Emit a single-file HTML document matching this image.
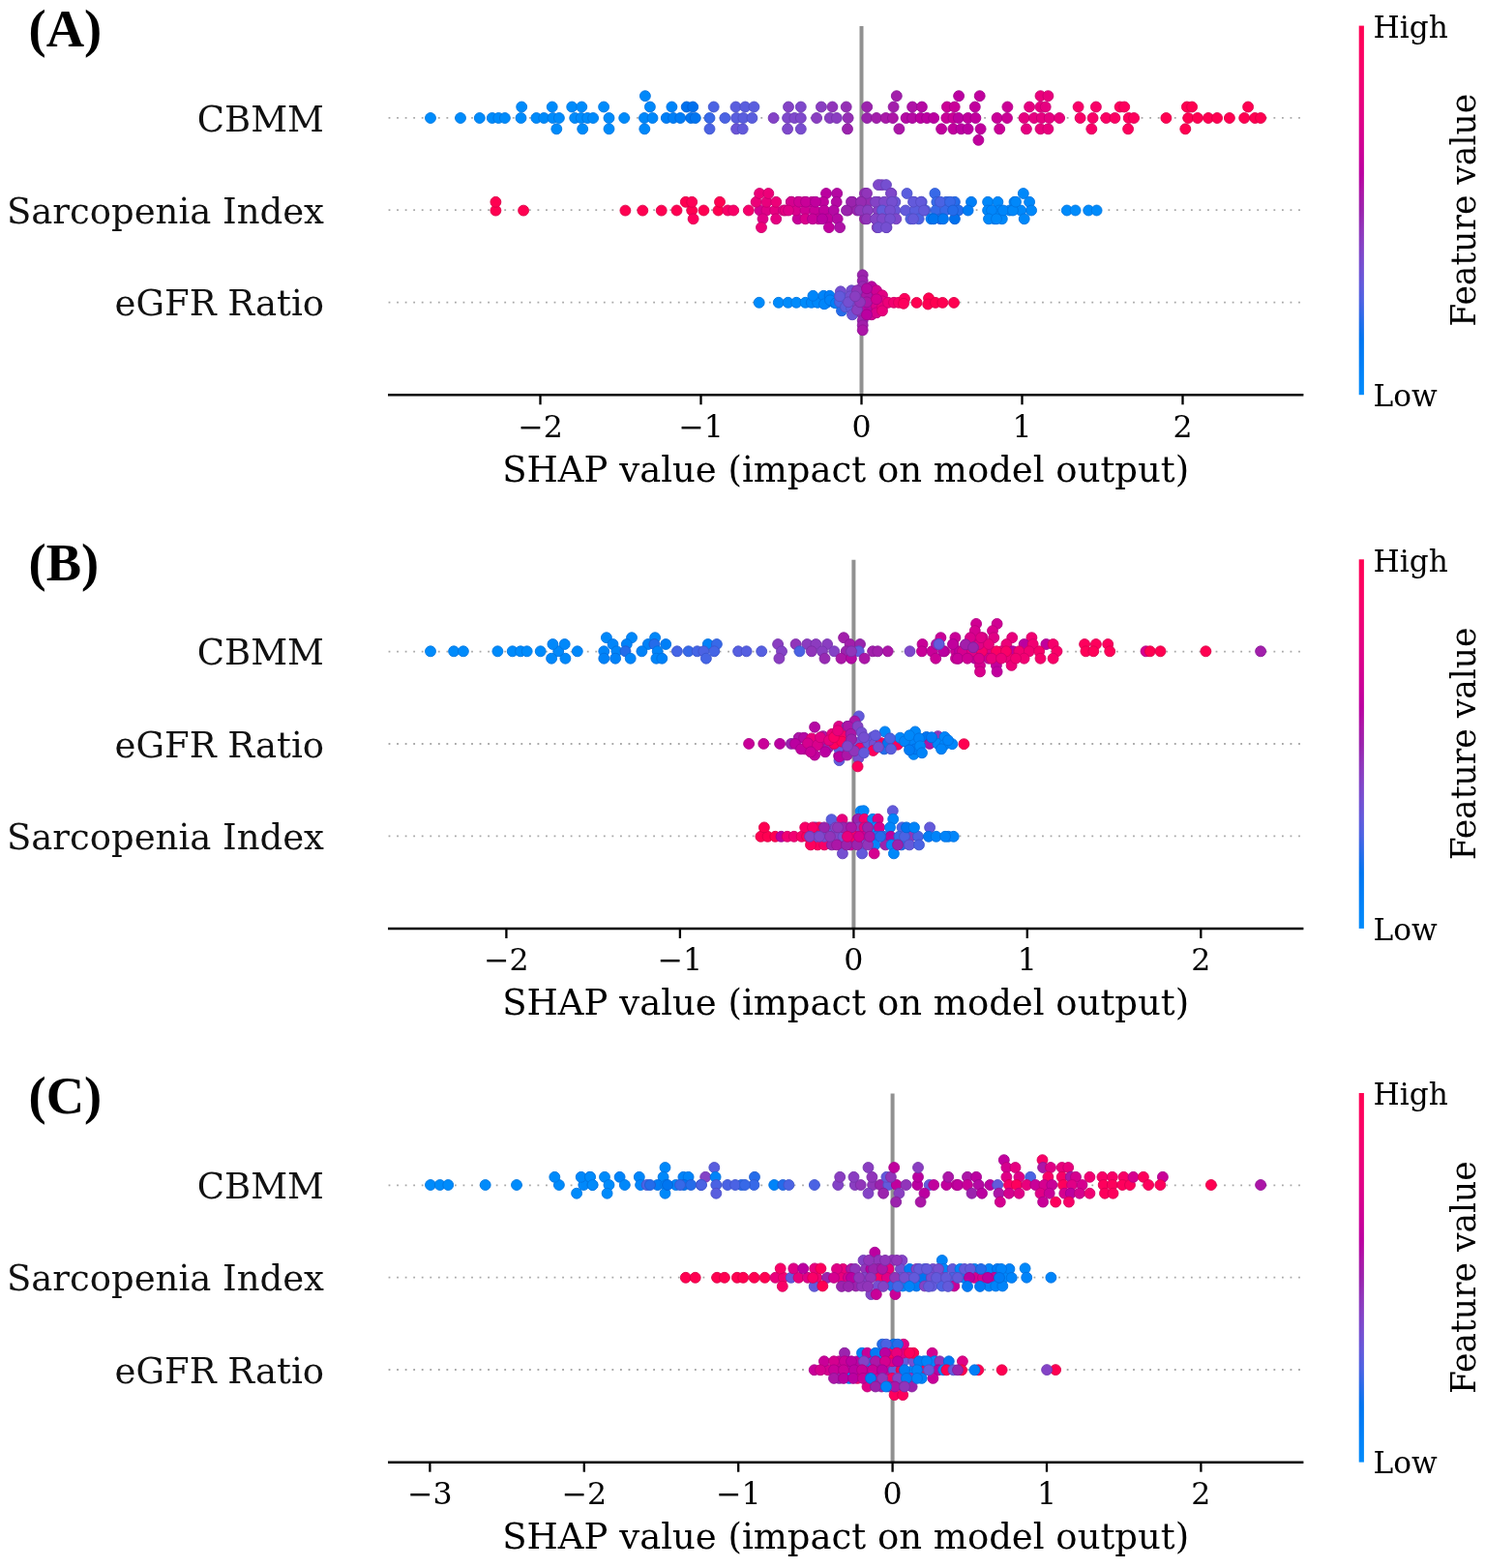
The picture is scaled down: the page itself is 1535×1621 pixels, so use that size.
<!DOCTYPE html><html><head><meta charset="utf-8"><title>SHAP summary plots</title><style>html,body{margin:0;padding:0;background:#fff;overflow:hidden}svg{display:block}</style></head><body>
<svg width="1535" height="1621" viewBox="0 0 1535 1621">
<defs><linearGradient id="cb" x1="0" y1="0" x2="0" y2="1"><stop offset="0.00" stop-color="#ff0051"/><stop offset="0.05" stop-color="#fe005c"/><stop offset="0.10" stop-color="#f90067"/><stop offset="0.15" stop-color="#f20072"/><stop offset="0.20" stop-color="#e9007c"/><stop offset="0.25" stop-color="#e00086"/><stop offset="0.30" stop-color="#d5008f"/><stop offset="0.35" stop-color="#c90098"/><stop offset="0.40" stop-color="#bb00a0"/><stop offset="0.45" stop-color="#ac16a7"/><stop offset="0.50" stop-color="#9b23ad"/><stop offset="0.55" stop-color="#9135ba"/><stop offset="0.60" stop-color="#8443c6"/><stop offset="0.65" stop-color="#754fd1"/><stop offset="0.70" stop-color="#635adb"/><stop offset="0.75" stop-color="#4b63e3"/><stop offset="0.80" stop-color="#246cea"/><stop offset="0.85" stop-color="#0075f0"/><stop offset="0.90" stop-color="#007cf5"/><stop offset="0.95" stop-color="#0084f9"/><stop offset="1.00" stop-color="#008bfb"/></linearGradient></defs>
<rect width="1535" height="1621" fill="#fff"/>
<g font-family="DejaVu Serif, Liberation Serif, serif"><line x1="401.6" y1="121.9" x2="1347.4" y2="121.9" stroke="#a8a8a8" stroke-width="1.8" stroke-dasharray="1.8 6.75"/><line x1="401.6" y1="217.2" x2="1347.4" y2="217.2" stroke="#a8a8a8" stroke-width="1.8" stroke-dasharray="1.8 6.75"/><line x1="401.6" y1="312.6" x2="1347.4" y2="312.6" stroke="#a8a8a8" stroke-width="1.8" stroke-dasharray="1.8 6.75"/><line x1="890.5" y1="27" x2="890.5" y2="408.3" stroke="#919191" stroke-width="4"/><circle cx="445" cy="122" r="5.45" fill="#008bfb" stroke="#0077e1" stroke-width="0.9"/><circle cx="476" cy="122" r="5.45" fill="#008bfb" stroke="#0077e1" stroke-width="0.9"/><circle cx="495.8" cy="122" r="5.45" fill="#008bfb" stroke="#0077e1" stroke-width="0.9"/><circle cx="508.8" cy="122" r="5.45" fill="#008bfb" stroke="#0077e1" stroke-width="0.9"/><circle cx="515.3" cy="122" r="5.45" fill="#008bfb" stroke="#0077e1" stroke-width="0.9"/><circle cx="521.9" cy="122" r="5.45" fill="#008bfb" stroke="#0077e1" stroke-width="0.9"/><circle cx="538.5" cy="122" r="5.45" fill="#008bfb" stroke="#0077e1" stroke-width="0.9"/><circle cx="554.4" cy="122" r="5.45" fill="#008bfb" stroke="#0077e1" stroke-width="0.9"/><circle cx="562.2" cy="122" r="5.45" fill="#008bfb" stroke="#0077e1" stroke-width="0.9"/><circle cx="571.4" cy="122" r="5.45" fill="#008bfb" stroke="#0077e1" stroke-width="0.9"/><circle cx="577.9" cy="122" r="5.45" fill="#008bfb" stroke="#0077e1" stroke-width="0.9"/><circle cx="594.2" cy="122" r="5.45" fill="#008bfb" stroke="#0077e1" stroke-width="0.9"/><circle cx="600.7" cy="122" r="5.45" fill="#008bfb" stroke="#0077e1" stroke-width="0.9"/><circle cx="607.2" cy="122" r="5.45" fill="#008bfb" stroke="#0077e1" stroke-width="0.9"/><circle cx="613.1" cy="122" r="5.45" fill="#008bfb" stroke="#0077e1" stroke-width="0.9"/><circle cx="539.2" cy="110.5" r="5.45" fill="#008bfb" stroke="#0077e1" stroke-width="0.9"/><circle cx="570.7" cy="110.5" r="5.45" fill="#008bfb" stroke="#0077e1" stroke-width="0.9"/><circle cx="591.2" cy="110.5" r="5.45" fill="#008bfb" stroke="#0077e1" stroke-width="0.9"/><circle cx="601.3" cy="110.5" r="5.45" fill="#008bfb" stroke="#0077e1" stroke-width="0.9"/><circle cx="575.3" cy="133.3" r="5.45" fill="#008bfb" stroke="#0077e1" stroke-width="0.9"/><circle cx="602.2" cy="133.3" r="5.45" fill="#008bfb" stroke="#0077e1" stroke-width="0.9"/><circle cx="629.5" cy="122" r="5.45" fill="#008bfb" stroke="#0077e1" stroke-width="0.9"/><circle cx="645.2" cy="122" r="5.45" fill="#008bfb" stroke="#0077e1" stroke-width="0.9"/><circle cx="666" cy="122" r="5.45" fill="#0088fa" stroke="#0074e1" stroke-width="0.9"/><circle cx="674.5" cy="122" r="5.45" fill="#0088fa" stroke="#0074e1" stroke-width="0.9"/><circle cx="688.8" cy="122" r="5.45" fill="#007ff7" stroke="#006dde" stroke-width="0.9"/><circle cx="696" cy="122" r="5.45" fill="#007ff7" stroke="#006dde" stroke-width="0.9"/><circle cx="703.2" cy="122" r="5.45" fill="#007cf5" stroke="#006adc" stroke-width="0.9"/><circle cx="714.2" cy="122" r="5.45" fill="#0075f0" stroke="#0064d8" stroke-width="0.9"/><circle cx="718.8" cy="122" r="5.45" fill="#0075f0" stroke="#0064d8" stroke-width="0.9"/><circle cx="733.5" cy="122" r="5.45" fill="#3769e8" stroke="#2f5ad0" stroke-width="0.9"/><circle cx="749.4" cy="122" r="5.45" fill="#4b63e3" stroke="#4055cc" stroke-width="0.9"/><circle cx="761.1" cy="122" r="5.45" fill="#5a5ede" stroke="#4d50c7" stroke-width="0.9"/><circle cx="768.3" cy="122" r="5.45" fill="#5a5ede" stroke="#4d50c7" stroke-width="0.9"/><circle cx="777.4" cy="122" r="5.45" fill="#5a5ede" stroke="#4d50c7" stroke-width="0.9"/><circle cx="799.6" cy="122" r="5.45" fill="#8443c6" stroke="#7139b2" stroke-width="0.9"/><circle cx="624.1" cy="110.5" r="5.45" fill="#008bfb" stroke="#0077e1" stroke-width="0.9"/><circle cx="671.9" cy="110.5" r="5.45" fill="#0088fa" stroke="#0074e1" stroke-width="0.9"/><circle cx="694.4" cy="110.5" r="5.45" fill="#0084f9" stroke="#0071e0" stroke-width="0.9"/><circle cx="709.7" cy="110.5" r="5.45" fill="#0070ed" stroke="#0060d5" stroke-width="0.9"/><circle cx="716.2" cy="110.5" r="5.45" fill="#0070ed" stroke="#0060d5" stroke-width="0.9"/><circle cx="737.7" cy="110.5" r="5.45" fill="#4b63e3" stroke="#4055cc" stroke-width="0.9"/><circle cx="760.5" cy="110.5" r="5.45" fill="#5a5ede" stroke="#4d50c7" stroke-width="0.9"/><circle cx="770.3" cy="110.5" r="5.45" fill="#5a5ede" stroke="#4d50c7" stroke-width="0.9"/><circle cx="779.4" cy="110.5" r="5.45" fill="#5a5ede" stroke="#4d50c7" stroke-width="0.9"/><circle cx="666.9" cy="99.2" r="5.45" fill="#0088fa" stroke="#0074e1" stroke-width="0.9"/><circle cx="629.5" cy="133.3" r="5.45" fill="#008bfb" stroke="#0077e1" stroke-width="0.9"/><circle cx="666.3" cy="133.3" r="5.45" fill="#0088fa" stroke="#0074e1" stroke-width="0.9"/><circle cx="733.5" cy="133.3" r="5.45" fill="#4b63e3" stroke="#4055cc" stroke-width="0.9"/><circle cx="761.1" cy="133.3" r="5.45" fill="#6b55d7" stroke="#5c49c1" stroke-width="0.9"/><circle cx="767.7" cy="133.3" r="5.45" fill="#635adb" stroke="#554dc5" stroke-width="0.9"/><circle cx="814.1" cy="122" r="5.45" fill="#7f48cb" stroke="#6d3db6" stroke-width="0.9"/><circle cx="821.3" cy="122" r="5.45" fill="#7f48cb" stroke="#6d3db6" stroke-width="0.9"/><circle cx="827.8" cy="122" r="5.45" fill="#7f48cb" stroke="#6d3db6" stroke-width="0.9"/><circle cx="844.1" cy="122" r="5.45" fill="#8a3ec1" stroke="#7635ad" stroke-width="0.9"/><circle cx="857.8" cy="122" r="5.45" fill="#8a3ec1" stroke="#7635ad" stroke-width="0.9"/><circle cx="864.9" cy="122" r="5.45" fill="#8a3ec1" stroke="#7635ad" stroke-width="0.9"/><circle cx="876.6" cy="122" r="5.45" fill="#952fb5" stroke="#8028a2" stroke-width="0.9"/><circle cx="896.2" cy="122" r="5.45" fill="#9b23ad" stroke="#851e9b" stroke-width="0.9"/><circle cx="906" cy="122" r="5.45" fill="#a21fab" stroke="#8b1a99" stroke-width="0.9"/><circle cx="915.7" cy="122" r="5.45" fill="#a919a8" stroke="#911597" stroke-width="0.9"/><circle cx="922.9" cy="122" r="5.45" fill="#ac16a7" stroke="#931296" stroke-width="0.9"/><circle cx="936.6" cy="122" r="5.45" fill="#b509a3" stroke="#9b0792" stroke-width="0.9"/><circle cx="943.1" cy="122" r="5.45" fill="#b509a3" stroke="#9b0792" stroke-width="0.9"/><circle cx="951.6" cy="122" r="5.45" fill="#bb00a0" stroke="#a00090" stroke-width="0.9"/><circle cx="958.1" cy="122" r="5.45" fill="#bb00a0" stroke="#a00090" stroke-width="0.9"/><circle cx="965.2" cy="122" r="5.45" fill="#bb00a0" stroke="#a00090" stroke-width="0.9"/><circle cx="978.3" cy="122" r="5.45" fill="#c90098" stroke="#ac0088" stroke-width="0.9"/><circle cx="985.4" cy="122" r="5.45" fill="#c90098" stroke="#ac0088" stroke-width="0.9"/><circle cx="815" cy="110.5" r="5.45" fill="#8443c6" stroke="#7139b2" stroke-width="0.9"/><circle cx="827.8" cy="110.5" r="5.45" fill="#7f48cb" stroke="#6d3db6" stroke-width="0.9"/><circle cx="848.9" cy="110.5" r="5.45" fill="#8a3ec1" stroke="#7635ad" stroke-width="0.9"/><circle cx="860.4" cy="110.5" r="5.45" fill="#9135ba" stroke="#7c2da7" stroke-width="0.9"/><circle cx="874.7" cy="110.5" r="5.45" fill="#952fb5" stroke="#8028a2" stroke-width="0.9"/><circle cx="896.2" cy="110.5" r="5.45" fill="#9b23ad" stroke="#851e9b" stroke-width="0.9"/><circle cx="923.6" cy="110.5" r="5.45" fill="#a21fab" stroke="#8b1a99" stroke-width="0.9"/><circle cx="943.1" cy="110.5" r="5.45" fill="#af12a6" stroke="#960f95" stroke-width="0.9"/><circle cx="952.9" cy="110.5" r="5.45" fill="#b509a3" stroke="#9b0792" stroke-width="0.9"/><circle cx="978.9" cy="110.5" r="5.45" fill="#cb0096" stroke="#ae0087" stroke-width="0.9"/><circle cx="986.7" cy="110.5" r="5.45" fill="#c90098" stroke="#ac0088" stroke-width="0.9"/><circle cx="926.8" cy="99.2" r="5.45" fill="#a21fab" stroke="#8b1a99" stroke-width="0.9"/><circle cx="814.1" cy="133.3" r="5.45" fill="#7f48cb" stroke="#6d3db6" stroke-width="0.9"/><circle cx="827.8" cy="133.3" r="5.45" fill="#794dcf" stroke="#6842ba" stroke-width="0.9"/><circle cx="876" cy="133.3" r="5.45" fill="#9b23ad" stroke="#851e9b" stroke-width="0.9"/><circle cx="929.4" cy="133.3" r="5.45" fill="#ac16a7" stroke="#931296" stroke-width="0.9"/><circle cx="973.1" cy="133.3" r="5.45" fill="#c1009d" stroke="#a5008d" stroke-width="0.9"/><circle cx="985.4" cy="133.3" r="5.45" fill="#c1009d" stroke="#a5008d" stroke-width="0.9"/><circle cx="991.1" cy="99.2" r="5.45" fill="#bb00a0" stroke="#a00090" stroke-width="0.9"/><circle cx="1012.7" cy="99.2" r="5.45" fill="#c1009d" stroke="#a5008d" stroke-width="0.9"/><circle cx="1075.5" cy="99.2" r="5.45" fill="#e9007c" stroke="#c8006f" stroke-width="0.9"/><circle cx="1083.4" cy="99.2" r="5.45" fill="#e9007c" stroke="#c8006f" stroke-width="0.9"/><circle cx="1007.8" cy="110.5" r="5.45" fill="#c1009d" stroke="#a5008d" stroke-width="0.9"/><circle cx="1041.4" cy="110.5" r="5.45" fill="#cb0096" stroke="#ae0087" stroke-width="0.9"/><circle cx="1064.1" cy="110.5" r="5.45" fill="#e60080" stroke="#c50073" stroke-width="0.9"/><circle cx="1075.5" cy="110.5" r="5.45" fill="#e60080" stroke="#c50073" stroke-width="0.9"/><circle cx="1080.7" cy="110.5" r="5.45" fill="#e60080" stroke="#c50073" stroke-width="0.9"/><circle cx="1114.6" cy="110.5" r="5.45" fill="#f90067" stroke="#d6005c" stroke-width="0.9"/><circle cx="1132.9" cy="110.5" r="5.45" fill="#f90067" stroke="#d6005c" stroke-width="0.9"/><circle cx="1157.6" cy="110.5" r="5.45" fill="#fe005c" stroke="#da0052" stroke-width="0.9"/><circle cx="1162.2" cy="110.5" r="5.45" fill="#fe005c" stroke="#da0052" stroke-width="0.9"/><circle cx="990.8" cy="122" r="5.45" fill="#bb00a0" stroke="#a00090" stroke-width="0.9"/><circle cx="1000.6" cy="122" r="5.45" fill="#c1009d" stroke="#a5008d" stroke-width="0.9"/><circle cx="1008.4" cy="122" r="5.45" fill="#c1009d" stroke="#a5008d" stroke-width="0.9"/><circle cx="1030.6" cy="122" r="5.45" fill="#c90098" stroke="#ac0088" stroke-width="0.9"/><circle cx="1041" cy="122" r="5.45" fill="#cb0096" stroke="#ae0087" stroke-width="0.9"/><circle cx="1058.6" cy="122" r="5.45" fill="#e60080" stroke="#c50073" stroke-width="0.9"/><circle cx="1069" cy="122" r="5.45" fill="#e60080" stroke="#c50073" stroke-width="0.9"/><circle cx="1076.8" cy="122" r="5.45" fill="#e60080" stroke="#c50073" stroke-width="0.9"/><circle cx="1084.7" cy="122" r="5.45" fill="#e60080" stroke="#c50073" stroke-width="0.9"/><circle cx="1095.1" cy="122" r="5.45" fill="#e9007c" stroke="#c8006f" stroke-width="0.9"/><circle cx="1116.6" cy="122" r="5.45" fill="#f90067" stroke="#d6005c" stroke-width="0.9"/><circle cx="1129.6" cy="122" r="5.45" fill="#f90067" stroke="#d6005c" stroke-width="0.9"/><circle cx="1143.3" cy="122" r="5.45" fill="#fb0063" stroke="#d70059" stroke-width="0.9"/><circle cx="1152.4" cy="122" r="5.45" fill="#fb0063" stroke="#d70059" stroke-width="0.9"/><circle cx="1166.7" cy="122" r="5.45" fill="#fe005c" stroke="#da0052" stroke-width="0.9"/><circle cx="993.5" cy="133.3" r="5.45" fill="#bb00a0" stroke="#a00090" stroke-width="0.9"/><circle cx="1000.6" cy="133.3" r="5.45" fill="#bb00a0" stroke="#a00090" stroke-width="0.9"/><circle cx="1013.6" cy="133.3" r="5.45" fill="#c1009d" stroke="#a5008d" stroke-width="0.9"/><circle cx="1033.2" cy="133.3" r="5.45" fill="#cb0096" stroke="#ae0087" stroke-width="0.9"/><circle cx="1060.9" cy="133.3" r="5.45" fill="#e60080" stroke="#c50073" stroke-width="0.9"/><circle cx="1075.5" cy="133.3" r="5.45" fill="#e9007c" stroke="#c8006f" stroke-width="0.9"/><circle cx="1083.4" cy="133.3" r="5.45" fill="#e9007c" stroke="#c8006f" stroke-width="0.9"/><circle cx="1128.3" cy="133.3" r="5.45" fill="#f90067" stroke="#d6005c" stroke-width="0.9"/><circle cx="1166.1" cy="133.3" r="5.45" fill="#fe005c" stroke="#da0052" stroke-width="0.9"/><circle cx="1011.4" cy="144.8" r="5.45" fill="#c1009d" stroke="#a5008d" stroke-width="0.9"/><circle cx="1172.1" cy="122" r="5.45" fill="#fe005c" stroke="#da0052" stroke-width="0.9"/><circle cx="1205.4" cy="122" r="5.45" fill="#ff0051" stroke="#db0048" stroke-width="0.9"/><circle cx="1228.2" cy="122" r="5.45" fill="#ff0051" stroke="#db0048" stroke-width="0.9"/><circle cx="1237.9" cy="122" r="5.45" fill="#ff0051" stroke="#db0048" stroke-width="0.9"/><circle cx="1249" cy="122" r="5.45" fill="#ff0051" stroke="#db0048" stroke-width="0.9"/><circle cx="1258.1" cy="122" r="5.45" fill="#ff0051" stroke="#db0048" stroke-width="0.9"/><circle cx="1270.9" cy="122" r="5.45" fill="#ff0051" stroke="#db0048" stroke-width="0.9"/><circle cx="1286.2" cy="122" r="5.45" fill="#ff0051" stroke="#db0048" stroke-width="0.9"/><circle cx="1297.2" cy="122" r="5.45" fill="#ff0051" stroke="#db0048" stroke-width="0.9"/><circle cx="1303.1" cy="122" r="5.45" fill="#ff0051" stroke="#db0048" stroke-width="0.9"/><circle cx="1226.9" cy="110.5" r="5.45" fill="#ff0051" stroke="#db0048" stroke-width="0.9"/><circle cx="1232.1" cy="110.5" r="5.45" fill="#ff0051" stroke="#db0048" stroke-width="0.9"/><circle cx="1290.1" cy="110.5" r="5.45" fill="#ff0051" stroke="#db0048" stroke-width="0.9"/><circle cx="1225.3" cy="133.3" r="5.45" fill="#ff0051" stroke="#db0048" stroke-width="0.9"/><circle cx="512.4" cy="217.6" r="5.45" fill="#ff0051" stroke="#db0048" stroke-width="0.9"/><circle cx="512.4" cy="208.8" r="5.45" fill="#ff0051" stroke="#db0048" stroke-width="0.9"/><circle cx="541.1" cy="217.6" r="5.45" fill="#ff0051" stroke="#db0048" stroke-width="0.9"/><circle cx="646.4" cy="217.6" r="5.45" fill="#ff0051" stroke="#db0048" stroke-width="0.9"/><circle cx="664.3" cy="217.6" r="5.45" fill="#ff0051" stroke="#db0048" stroke-width="0.9"/><circle cx="683.7" cy="217.6" r="5.45" fill="#ff0051" stroke="#db0048" stroke-width="0.9"/><circle cx="699.5" cy="217.5" r="5.45" fill="#ff0051" stroke="#db0048" stroke-width="0.9"/><circle cx="715.2" cy="217.5" r="5.45" fill="#ff0051" stroke="#db0048" stroke-width="0.9"/><circle cx="727.4" cy="217.5" r="5.45" fill="#ff0051" stroke="#db0048" stroke-width="0.9"/><circle cx="742.5" cy="217.5" r="5.45" fill="#ff0051" stroke="#db0048" stroke-width="0.9"/><circle cx="752.3" cy="217.5" r="5.45" fill="#f90067" stroke="#d6005c" stroke-width="0.9"/><circle cx="758.2" cy="217.5" r="5.45" fill="#f90067" stroke="#d6005c" stroke-width="0.9"/><circle cx="773.8" cy="217.5" r="5.45" fill="#f6006b" stroke="#d30060" stroke-width="0.9"/><circle cx="785.5" cy="217.5" r="5.45" fill="#d5008f" stroke="#b70080" stroke-width="0.9"/><circle cx="792.4" cy="217.5" r="5.45" fill="#e00086" stroke="#c00078" stroke-width="0.9"/><circle cx="801.2" cy="217.5" r="5.45" fill="#e60080" stroke="#c50073" stroke-width="0.9"/><circle cx="810" cy="217.5" r="5.45" fill="#e00086" stroke="#c00078" stroke-width="0.9"/><circle cx="708.8" cy="208.8" r="5.45" fill="#ff0051" stroke="#db0048" stroke-width="0.9"/><circle cx="715.2" cy="208.8" r="5.45" fill="#ff0056" stroke="#db004d" stroke-width="0.9"/><circle cx="744" cy="208.8" r="5.45" fill="#ff0051" stroke="#db0048" stroke-width="0.9"/><circle cx="781.6" cy="208.8" r="5.45" fill="#ed0078" stroke="#cb006c" stroke-width="0.9"/><circle cx="792.4" cy="208.8" r="5.45" fill="#e9007c" stroke="#c8006f" stroke-width="0.9"/><circle cx="802.2" cy="208.8" r="5.45" fill="#ed0078" stroke="#cb006c" stroke-width="0.9"/><circle cx="817.8" cy="208.8" r="5.45" fill="#d9008c" stroke="#ba007e" stroke-width="0.9"/><circle cx="824.6" cy="208.8" r="5.45" fill="#c90098" stroke="#ac0088" stroke-width="0.9"/><circle cx="785.1" cy="200" r="5.45" fill="#ed0078" stroke="#cb006c" stroke-width="0.9"/><circle cx="794.3" cy="200" r="5.45" fill="#ed0078" stroke="#cb006c" stroke-width="0.9"/><circle cx="716.6" cy="226.3" r="5.45" fill="#fe005c" stroke="#da0052" stroke-width="0.9"/><circle cx="788.5" cy="226.3" r="5.45" fill="#e00086" stroke="#c00078" stroke-width="0.9"/><circle cx="802.2" cy="226.3" r="5.45" fill="#e60080" stroke="#c50073" stroke-width="0.9"/><circle cx="824.6" cy="226.3" r="5.45" fill="#c90098" stroke="#ac0088" stroke-width="0.9"/><circle cx="787" cy="235.1" r="5.45" fill="#ed0078" stroke="#cb006c" stroke-width="0.9"/><circle cx="911.6" cy="191.2" r="5.45" fill="#8443c6" stroke="#7139b2" stroke-width="0.9"/><circle cx="854" cy="200" r="5.45" fill="#bb00a0" stroke="#a00090" stroke-width="0.9"/><circle cx="865.2" cy="200" r="5.45" fill="#b509a3" stroke="#9b0792" stroke-width="0.9"/><circle cx="894" cy="200" r="5.45" fill="#972bb2" stroke="#8124a0" stroke-width="0.9"/><circle cx="921.4" cy="200" r="5.45" fill="#8443c6" stroke="#7139b2" stroke-width="0.9"/><circle cx="937.5" cy="200" r="5.45" fill="#5a5ede" stroke="#4d50c7" stroke-width="0.9"/><circle cx="831.5" cy="208.8" r="5.45" fill="#d5008f" stroke="#b70080" stroke-width="0.9"/><circle cx="839.3" cy="208.8" r="5.45" fill="#c90098" stroke="#ac0088" stroke-width="0.9"/><circle cx="851" cy="208.8" r="5.45" fill="#c1009d" stroke="#a5008d" stroke-width="0.9"/><circle cx="864.7" cy="208.8" r="5.45" fill="#b509a3" stroke="#9b0792" stroke-width="0.9"/><circle cx="881.3" cy="208.8" r="5.45" fill="#a21fab" stroke="#8b1a99" stroke-width="0.9"/><circle cx="898" cy="208.8" r="5.45" fill="#972bb2" stroke="#8124a0" stroke-width="0.9"/><circle cx="907.7" cy="208.8" r="5.45" fill="#8a3ec1" stroke="#7635ad" stroke-width="0.9"/><circle cx="925.3" cy="208.8" r="5.45" fill="#6b55d7" stroke="#5c49c1" stroke-width="0.9"/><circle cx="944.9" cy="208.8" r="5.45" fill="#635adb" stroke="#554dc5" stroke-width="0.9"/><circle cx="952.7" cy="208.8" r="5.45" fill="#4b63e3" stroke="#4055cc" stroke-width="0.9"/><circle cx="812" cy="217.5" r="5.45" fill="#e60080" stroke="#c50073" stroke-width="0.9"/><circle cx="822.7" cy="217.5" r="5.45" fill="#d9008c" stroke="#ba007e" stroke-width="0.9"/><circle cx="832.5" cy="217.5" r="5.45" fill="#d00093" stroke="#b20084" stroke-width="0.9"/><circle cx="842.2" cy="217.5" r="5.45" fill="#c90098" stroke="#ac0088" stroke-width="0.9"/><circle cx="852" cy="217.5" r="5.45" fill="#c1009d" stroke="#a5008d" stroke-width="0.9"/><circle cx="861.8" cy="217.5" r="5.45" fill="#b509a3" stroke="#9b0792" stroke-width="0.9"/><circle cx="876.5" cy="217.5" r="5.45" fill="#ac16a7" stroke="#931296" stroke-width="0.9"/><circle cx="886.2" cy="217.5" r="5.45" fill="#9b23ad" stroke="#851e9b" stroke-width="0.9"/><circle cx="896" cy="217.5" r="5.45" fill="#952fb5" stroke="#8028a2" stroke-width="0.9"/><circle cx="907.7" cy="217.5" r="5.45" fill="#8a3ec1" stroke="#7635ad" stroke-width="0.9"/><circle cx="915.5" cy="217.5" r="5.45" fill="#635adb" stroke="#554dc5" stroke-width="0.9"/><circle cx="925.3" cy="217.5" r="5.45" fill="#6b55d7" stroke="#5c49c1" stroke-width="0.9"/><circle cx="936.1" cy="217.5" r="5.45" fill="#635adb" stroke="#554dc5" stroke-width="0.9"/><circle cx="945.8" cy="217.5" r="5.45" fill="#5a5ede" stroke="#4d50c7" stroke-width="0.9"/><circle cx="956.6" cy="217.5" r="5.45" fill="#4b63e3" stroke="#4055cc" stroke-width="0.9"/><circle cx="832.5" cy="226.3" r="5.45" fill="#d9008c" stroke="#ba007e" stroke-width="0.9"/><circle cx="846.2" cy="226.3" r="5.45" fill="#c90098" stroke="#ac0088" stroke-width="0.9"/><circle cx="855.9" cy="226.3" r="5.45" fill="#c1009d" stroke="#a5008d" stroke-width="0.9"/><circle cx="865.7" cy="226.3" r="5.45" fill="#b509a3" stroke="#9b0792" stroke-width="0.9"/><circle cx="894" cy="226.3" r="5.45" fill="#9b23ad" stroke="#851e9b" stroke-width="0.9"/><circle cx="905.8" cy="226.3" r="5.45" fill="#9135ba" stroke="#7c2da7" stroke-width="0.9"/><circle cx="915.5" cy="226.3" r="5.45" fill="#6b55d7" stroke="#5c49c1" stroke-width="0.9"/><circle cx="926.3" cy="226.3" r="5.45" fill="#7f48cb" stroke="#6d3db6" stroke-width="0.9"/><circle cx="941.4" cy="226.3" r="5.45" fill="#5061e2" stroke="#4453cb" stroke-width="0.9"/><circle cx="949.7" cy="226.3" r="5.45" fill="#5061e2" stroke="#4453cb" stroke-width="0.9"/><circle cx="856.9" cy="235.1" r="5.45" fill="#c1009d" stroke="#a5008d" stroke-width="0.9"/><circle cx="868.1" cy="235.1" r="5.45" fill="#af12a6" stroke="#960f95" stroke-width="0.9"/><circle cx="906.7" cy="235.1" r="5.45" fill="#8a3ec1" stroke="#7635ad" stroke-width="0.9"/><circle cx="916.5" cy="235.1" r="5.45" fill="#8443c6" stroke="#7139b2" stroke-width="0.9"/><circle cx="966.4" cy="200" r="5.45" fill="#3769e8" stroke="#2f5ad0" stroke-width="0.9"/><circle cx="1057.8" cy="200" r="5.45" fill="#0088fa" stroke="#0074e1" stroke-width="0.9"/><circle cx="968.3" cy="208.8" r="5.45" fill="#3769e8" stroke="#2f5ad0" stroke-width="0.9"/><circle cx="978.1" cy="208.8" r="5.45" fill="#3769e8" stroke="#2f5ad0" stroke-width="0.9"/><circle cx="986.9" cy="208.8" r="5.45" fill="#246cea" stroke="#1e5cd2" stroke-width="0.9"/><circle cx="1004" cy="208.8" r="5.45" fill="#007ff7" stroke="#006dde" stroke-width="0.9"/><circle cx="1021.1" cy="208.8" r="5.45" fill="#0088fa" stroke="#0074e1" stroke-width="0.9"/><circle cx="1031.4" cy="208.8" r="5.45" fill="#0088fa" stroke="#0074e1" stroke-width="0.9"/><circle cx="1048.5" cy="208.8" r="5.45" fill="#0088fa" stroke="#0074e1" stroke-width="0.9"/><circle cx="1064.1" cy="208.8" r="5.45" fill="#0088fa" stroke="#0074e1" stroke-width="0.9"/><circle cx="967.4" cy="217.5" r="5.45" fill="#3769e8" stroke="#2f5ad0" stroke-width="0.9"/><circle cx="977.1" cy="217.5" r="5.45" fill="#3769e8" stroke="#2f5ad0" stroke-width="0.9"/><circle cx="990.8" cy="217.5" r="5.45" fill="#246cea" stroke="#1e5cd2" stroke-width="0.9"/><circle cx="1000.6" cy="217.5" r="5.45" fill="#007cf5" stroke="#006adc" stroke-width="0.9"/><circle cx="1021.1" cy="217.5" r="5.45" fill="#0088fa" stroke="#0074e1" stroke-width="0.9"/><circle cx="1032.8" cy="217.5" r="5.45" fill="#0088fa" stroke="#0074e1" stroke-width="0.9"/><circle cx="1043.6" cy="217.5" r="5.45" fill="#0088fa" stroke="#0074e1" stroke-width="0.9"/><circle cx="1055.3" cy="217.5" r="5.45" fill="#0088fa" stroke="#0074e1" stroke-width="0.9"/><circle cx="1066.1" cy="217.5" r="5.45" fill="#0088fa" stroke="#0074e1" stroke-width="0.9"/><circle cx="962.5" cy="226.3" r="5.45" fill="#007cf5" stroke="#006adc" stroke-width="0.9"/><circle cx="972.2" cy="226.3" r="5.45" fill="#246cea" stroke="#1e5cd2" stroke-width="0.9"/><circle cx="986.9" cy="226.3" r="5.45" fill="#0070ed" stroke="#0060d5" stroke-width="0.9"/><circle cx="1028" cy="226.3" r="5.45" fill="#0088fa" stroke="#0074e1" stroke-width="0.9"/><circle cx="1035.8" cy="226.3" r="5.45" fill="#0088fa" stroke="#0074e1" stroke-width="0.9"/><circle cx="1058.7" cy="226.3" r="5.45" fill="#0088fa" stroke="#0074e1" stroke-width="0.9"/><circle cx="1102.8" cy="217.5" r="5.45" fill="#008bfb" stroke="#0077e1" stroke-width="0.9"/><circle cx="1111.6" cy="217.5" r="5.45" fill="#008bfb" stroke="#0077e1" stroke-width="0.9"/><circle cx="1125.2" cy="217.5" r="5.45" fill="#008bfb" stroke="#0077e1" stroke-width="0.9"/><circle cx="1133.6" cy="217.5" r="5.45" fill="#008bfb" stroke="#0077e1" stroke-width="0.9"/><circle cx="908" cy="191.1" r="5.45" fill="#7f48cb" stroke="#6d3db6" stroke-width="0.9"/><circle cx="916" cy="191.1" r="5.45" fill="#754fd1" stroke="#6443bc" stroke-width="0.9"/><circle cx="896" cy="199.9" r="5.45" fill="#9135ba" stroke="#7c2da7" stroke-width="0.9"/><circle cx="921" cy="199.9" r="5.45" fill="#7f48cb" stroke="#6d3db6" stroke-width="0.9"/><circle cx="880" cy="208.7" r="5.45" fill="#9b23ad" stroke="#851e9b" stroke-width="0.9"/><circle cx="890" cy="208.7" r="5.45" fill="#972bb2" stroke="#8124a0" stroke-width="0.9"/><circle cx="905" cy="208.7" r="5.45" fill="#8443c6" stroke="#7139b2" stroke-width="0.9"/><circle cx="914" cy="208.7" r="5.45" fill="#7f48cb" stroke="#6d3db6" stroke-width="0.9"/><circle cx="922" cy="208.7" r="5.45" fill="#754fd1" stroke="#6443bc" stroke-width="0.9"/><circle cx="944" cy="208.7" r="5.45" fill="#635adb" stroke="#554dc5" stroke-width="0.9"/><circle cx="952" cy="208.7" r="5.45" fill="#635adb" stroke="#554dc5" stroke-width="0.9"/><circle cx="972" cy="208.7" r="5.45" fill="#4b63e3" stroke="#4055cc" stroke-width="0.9"/><circle cx="982" cy="208.7" r="5.45" fill="#3769e8" stroke="#2f5ad0" stroke-width="0.9"/><circle cx="875" cy="217.5" r="5.45" fill="#9b23ad" stroke="#851e9b" stroke-width="0.9"/><circle cx="889" cy="217.5" r="5.45" fill="#9135ba" stroke="#7c2da7" stroke-width="0.9"/><circle cx="897" cy="217.5" r="5.45" fill="#8a3ec1" stroke="#7635ad" stroke-width="0.9"/><circle cx="912" cy="217.5" r="5.45" fill="#635adb" stroke="#554dc5" stroke-width="0.9"/><circle cx="920" cy="217.5" r="5.45" fill="#754fd1" stroke="#6443bc" stroke-width="0.9"/><circle cx="955" cy="217.5" r="5.45" fill="#635adb" stroke="#554dc5" stroke-width="0.9"/><circle cx="985" cy="217.5" r="5.45" fill="#246cea" stroke="#1e5cd2" stroke-width="0.9"/><circle cx="896" cy="226.3" r="5.45" fill="#9135ba" stroke="#7c2da7" stroke-width="0.9"/><circle cx="905" cy="226.3" r="5.45" fill="#8443c6" stroke="#7139b2" stroke-width="0.9"/><circle cx="912" cy="226.3" r="5.45" fill="#7f48cb" stroke="#6d3db6" stroke-width="0.9"/><circle cx="920" cy="226.3" r="5.45" fill="#754fd1" stroke="#6443bc" stroke-width="0.9"/><circle cx="944" cy="226.3" r="5.45" fill="#635adb" stroke="#554dc5" stroke-width="0.9"/><circle cx="965" cy="226.3" r="5.45" fill="#0075f0" stroke="#0064d8" stroke-width="0.9"/><circle cx="975" cy="226.3" r="5.45" fill="#0079f3" stroke="#0068da" stroke-width="0.9"/><circle cx="908" cy="235.1" r="5.45" fill="#754fd1" stroke="#6443bc" stroke-width="0.9"/><circle cx="916" cy="235.1" r="5.45" fill="#754fd1" stroke="#6443bc" stroke-width="0.9"/><circle cx="818" cy="208.7" r="5.45" fill="#d5008f" stroke="#b70080" stroke-width="0.9"/><circle cx="826" cy="208.7" r="5.45" fill="#d00093" stroke="#b20084" stroke-width="0.9"/><circle cx="833" cy="208.7" r="5.45" fill="#c90098" stroke="#ac0088" stroke-width="0.9"/><circle cx="843" cy="208.7" r="5.45" fill="#c1009d" stroke="#a5008d" stroke-width="0.9"/><circle cx="815" cy="217.5" r="5.45" fill="#e00086" stroke="#c00078" stroke-width="0.9"/><circle cx="840" cy="226.3" r="5.45" fill="#c90098" stroke="#ac0088" stroke-width="0.9"/><circle cx="850" cy="226.3" r="5.45" fill="#bb00a0" stroke="#a00090" stroke-width="0.9"/><circle cx="1025" cy="217.5" r="5.45" fill="#0086fa" stroke="#0073e1" stroke-width="0.9"/><circle cx="1037" cy="217.5" r="5.45" fill="#0086fa" stroke="#0073e1" stroke-width="0.9"/><circle cx="1047" cy="217.5" r="5.45" fill="#0088fa" stroke="#0074e1" stroke-width="0.9"/><circle cx="1022" cy="226.3" r="5.45" fill="#0088fa" stroke="#0074e1" stroke-width="0.9"/><circle cx="1030" cy="226.3" r="5.45" fill="#0088fa" stroke="#0074e1" stroke-width="0.9"/><circle cx="1050" cy="208.7" r="5.45" fill="#0088fa" stroke="#0074e1" stroke-width="0.9"/><circle cx="784.7" cy="312.8" r="5.45" fill="#008bfb" stroke="#0077e1" stroke-width="0.9"/><circle cx="804.8" cy="312.8" r="5.45" fill="#008bfb" stroke="#0077e1" stroke-width="0.9"/><circle cx="814.6" cy="312.8" r="5.45" fill="#008bfb" stroke="#0077e1" stroke-width="0.9"/><circle cx="823.2" cy="312.8" r="5.45" fill="#008bfb" stroke="#0077e1" stroke-width="0.9"/><circle cx="832.5" cy="312.8" r="5.45" fill="#008bfb" stroke="#0077e1" stroke-width="0.9"/><circle cx="838.8" cy="312.8" r="5.45" fill="#0088fa" stroke="#0074e1" stroke-width="0.9"/><circle cx="845.1" cy="312.8" r="5.45" fill="#0088fa" stroke="#0074e1" stroke-width="0.9"/><circle cx="854.4" cy="312.8" r="5.45" fill="#0086fa" stroke="#0073e1" stroke-width="0.9"/><circle cx="862.3" cy="312.8" r="5.45" fill="#0084f9" stroke="#0071e0" stroke-width="0.9"/><circle cx="840.4" cy="305.8" r="5.45" fill="#0086fa" stroke="#0073e1" stroke-width="0.9"/><circle cx="851.3" cy="305.8" r="5.45" fill="#0084f9" stroke="#0071e0" stroke-width="0.9"/><circle cx="857.6" cy="305.8" r="5.45" fill="#007ff7" stroke="#006dde" stroke-width="0.9"/><circle cx="852" cy="314.3" r="5.45" fill="#0086fa" stroke="#0073e1" stroke-width="0.9"/><circle cx="858" cy="310.3" r="5.45" fill="#0084f9" stroke="#0071e0" stroke-width="0.9"/><circle cx="864" cy="313.3" r="5.45" fill="#007ff7" stroke="#006dde" stroke-width="0.9"/><circle cx="868.9" cy="301.3" r="5.45" fill="#754fd1" stroke="#6443bc" stroke-width="0.9"/><circle cx="880.2" cy="300.3" r="5.45" fill="#754fd1" stroke="#6443bc" stroke-width="0.9"/><circle cx="870" cy="321.3" r="5.45" fill="#246cea" stroke="#1e5cd2" stroke-width="0.9"/><circle cx="882" cy="323.3" r="5.45" fill="#4b63e3" stroke="#4055cc" stroke-width="0.9"/><circle cx="868" cy="312.3" r="5.45" fill="#4b63e3" stroke="#4055cc" stroke-width="0.9"/><circle cx="874" cy="308.3" r="5.45" fill="#635adb" stroke="#554dc5" stroke-width="0.9"/><circle cx="874" cy="317.3" r="5.45" fill="#5a5ede" stroke="#4d50c7" stroke-width="0.9"/><circle cx="879" cy="306.3" r="5.45" fill="#754fd1" stroke="#6443bc" stroke-width="0.9"/><circle cx="880" cy="318.3" r="5.45" fill="#635adb" stroke="#554dc5" stroke-width="0.9"/><circle cx="881" cy="325.3" r="5.45" fill="#6e53d5" stroke="#5e47bf" stroke-width="0.9"/><circle cx="885" cy="312.3" r="5.45" fill="#8443c6" stroke="#7139b2" stroke-width="0.9"/><circle cx="891.7" cy="284.3" r="5.45" fill="#9b23ad" stroke="#851e9b" stroke-width="0.9"/><circle cx="891.7" cy="290.3" r="5.45" fill="#9b23ad" stroke="#851e9b" stroke-width="0.9"/><circle cx="891.7" cy="296.3" r="5.45" fill="#972bb2" stroke="#8124a0" stroke-width="0.9"/><circle cx="891.7" cy="302.3" r="5.45" fill="#9135ba" stroke="#7c2da7" stroke-width="0.9"/><circle cx="891.7" cy="308.3" r="5.45" fill="#9135ba" stroke="#7c2da7" stroke-width="0.9"/><circle cx="891.7" cy="313.3" r="5.45" fill="#9135ba" stroke="#7c2da7" stroke-width="0.9"/><circle cx="891.7" cy="319.3" r="5.45" fill="#9135ba" stroke="#7c2da7" stroke-width="0.9"/><circle cx="891.7" cy="325.3" r="5.45" fill="#972bb2" stroke="#8124a0" stroke-width="0.9"/><circle cx="891.7" cy="331.3" r="5.45" fill="#9b23ad" stroke="#851e9b" stroke-width="0.9"/><circle cx="891.7" cy="336.3" r="5.45" fill="#a21fab" stroke="#8b1a99" stroke-width="0.9"/><circle cx="891.7" cy="341.3" r="5.45" fill="#ac16a7" stroke="#931296" stroke-width="0.9"/><circle cx="901" cy="296.3" r="5.45" fill="#bb00a0" stroke="#a00090" stroke-width="0.9"/><circle cx="901" cy="302.3" r="5.45" fill="#c1009d" stroke="#a5008d" stroke-width="0.9"/><circle cx="901" cy="308.3" r="5.45" fill="#c1009d" stroke="#a5008d" stroke-width="0.9"/><circle cx="901" cy="313.3" r="5.45" fill="#c90098" stroke="#ac0088" stroke-width="0.9"/><circle cx="901" cy="319.3" r="5.45" fill="#c90098" stroke="#ac0088" stroke-width="0.9"/><circle cx="901" cy="325.3" r="5.45" fill="#d00093" stroke="#b20084" stroke-width="0.9"/><circle cx="896" cy="305.3" r="5.45" fill="#ac16a7" stroke="#931296" stroke-width="0.9"/><circle cx="896" cy="318.3" r="5.45" fill="#b509a3" stroke="#9b0792" stroke-width="0.9"/><circle cx="906" cy="300.3" r="5.45" fill="#d00093" stroke="#b20084" stroke-width="0.9"/><circle cx="906" cy="316.3" r="5.45" fill="#d9008c" stroke="#ba007e" stroke-width="0.9"/><circle cx="906" cy="323.3" r="5.45" fill="#d9008c" stroke="#ba007e" stroke-width="0.9"/><circle cx="912" cy="305.3" r="5.45" fill="#e20084" stroke="#c20076" stroke-width="0.9"/><circle cx="912" cy="311.3" r="5.45" fill="#e20084" stroke="#c20076" stroke-width="0.9"/><circle cx="912" cy="317.3" r="5.45" fill="#e60080" stroke="#c50073" stroke-width="0.9"/><circle cx="912" cy="321.3" r="5.45" fill="#e9007c" stroke="#c8006f" stroke-width="0.9"/><circle cx="918" cy="312.8" r="5.45" fill="#ed0078" stroke="#cb006c" stroke-width="0.9"/><circle cx="924" cy="312.8" r="5.45" fill="#f30070" stroke="#d00064" stroke-width="0.9"/><circle cx="929" cy="312.8" r="5.45" fill="#f90067" stroke="#d6005c" stroke-width="0.9"/><circle cx="935" cy="308.8" r="5.45" fill="#fe005c" stroke="#da0052" stroke-width="0.9"/><circle cx="934" cy="313.8" r="5.45" fill="#fe005c" stroke="#da0052" stroke-width="0.9"/><circle cx="947.5" cy="312.9" r="5.45" fill="#ff0051" stroke="#db0048" stroke-width="0.9"/><circle cx="960" cy="308.3" r="5.45" fill="#ff0051" stroke="#db0048" stroke-width="0.9"/><circle cx="959.2" cy="314.5" r="5.45" fill="#ff0051" stroke="#db0048" stroke-width="0.9"/><circle cx="967" cy="312.9" r="5.45" fill="#ff0051" stroke="#db0048" stroke-width="0.9"/><circle cx="974.3" cy="312.9" r="5.45" fill="#ff0051" stroke="#db0048" stroke-width="0.9"/><circle cx="986" cy="312.9" r="5.45" fill="#ff0051" stroke="#db0048" stroke-width="0.9"/><circle cx="886" cy="300.3" r="5.45" fill="#9135ba" stroke="#7c2da7" stroke-width="0.9"/><circle cx="886" cy="320.3" r="5.45" fill="#8a3ec1" stroke="#7635ad" stroke-width="0.9"/><circle cx="896" cy="312.3" r="5.45" fill="#ac16a7" stroke="#931296" stroke-width="0.9"/><circle cx="906" cy="309.3" r="5.45" fill="#d00093" stroke="#b20084" stroke-width="0.9"/><circle cx="889" cy="312.3" r="5.45" fill="#9135ba" stroke="#7c2da7" stroke-width="0.9"/><circle cx="877" cy="312.3" r="5.45" fill="#754fd1" stroke="#6443bc" stroke-width="0.9"/><circle cx="884" cy="306.3" r="5.45" fill="#8a3ec1" stroke="#7635ad" stroke-width="0.9"/><circle cx="896" cy="325.3" r="5.45" fill="#bb00a0" stroke="#a00090" stroke-width="0.9"/><circle cx="868" cy="306.3" r="5.45" fill="#635adb" stroke="#554dc5" stroke-width="0.9"/><circle cx="896" cy="298.3" r="5.45" fill="#b509a3" stroke="#9b0792" stroke-width="0.9"/><line x1="401.0" y1="408.3" x2="1347.4" y2="408.3" stroke="#000" stroke-width="2.5"/><line x1="558.5" y1="408.3" x2="558.5" y2="418.3" stroke="#000" stroke-width="2.3"/><text x="558.5" y="451.7" font-size="31.6" text-anchor="middle" fill="#000">−2</text><line x1="724.5" y1="408.3" x2="724.5" y2="418.3" stroke="#000" stroke-width="2.3"/><text x="724.5" y="451.7" font-size="31.6" text-anchor="middle" fill="#000">−1</text><line x1="890.5" y1="408.3" x2="890.5" y2="418.3" stroke="#000" stroke-width="2.3"/><text x="890.5" y="451.7" font-size="31.6" text-anchor="middle" fill="#000">0</text><line x1="1056.5" y1="408.3" x2="1056.5" y2="418.3" stroke="#000" stroke-width="2.3"/><text x="1056.5" y="451.7" font-size="31.6" text-anchor="middle" fill="#000">1</text><line x1="1222.5" y1="408.3" x2="1222.5" y2="418.3" stroke="#000" stroke-width="2.3"/><text x="1222.5" y="451.7" font-size="31.6" text-anchor="middle" fill="#000">2</text><text x="335" y="135.6" font-size="37" text-anchor="end" fill="#111">CBMM</text><text x="335" y="231" font-size="37" text-anchor="end" fill="#111">Sarcopenia Index</text><text x="335" y="326.3" font-size="37" text-anchor="end" fill="#111">eGFR Ratio</text><text x="874.2" y="497.5" font-size="37" text-anchor="middle" fill="#000">SHAP value (impact on model output)</text><rect x="1404.7" y="26.6" width="5.2" height="381.6" fill="url(#cb)"/><text x="1419.5" y="39" font-size="31.2" fill="#000">High</text><text x="1419.5" y="420" font-size="31.2" fill="#000">Low</text><text transform="translate(1525.2 217.3) rotate(-90)" font-size="34.5" text-anchor="middle" fill="#000">Feature value</text><text x="29.5" y="47.9" font-size="54.5" font-weight="bold" font-family="Liberation Serif, serif" fill="#000">(A)</text></g>
<g font-family="DejaVu Serif, Liberation Serif, serif"><line x1="401.6" y1="673.6" x2="1347.4" y2="673.6" stroke="#a8a8a8" stroke-width="1.8" stroke-dasharray="1.8 6.75"/><line x1="401.6" y1="769" x2="1347.4" y2="769" stroke="#a8a8a8" stroke-width="1.8" stroke-dasharray="1.8 6.75"/><line x1="401.6" y1="864.3" x2="1347.4" y2="864.3" stroke="#a8a8a8" stroke-width="1.8" stroke-dasharray="1.8 6.75"/><line x1="882.4" y1="578.7" x2="882.4" y2="960" stroke="#919191" stroke-width="4"/><circle cx="445" cy="673.3" r="5.45" fill="#008bfb" stroke="#0077e1" stroke-width="0.9"/><circle cx="469.1" cy="673.3" r="5.45" fill="#008bfb" stroke="#0077e1" stroke-width="0.9"/><circle cx="478.9" cy="673.3" r="5.45" fill="#008bfb" stroke="#0077e1" stroke-width="0.9"/><circle cx="514.4" cy="673.3" r="5.45" fill="#008bfb" stroke="#0077e1" stroke-width="0.9"/><circle cx="529.7" cy="673.3" r="5.45" fill="#008bfb" stroke="#0077e1" stroke-width="0.9"/><circle cx="538.1" cy="673.3" r="5.45" fill="#008bfb" stroke="#0077e1" stroke-width="0.9"/><circle cx="544.7" cy="673.3" r="5.45" fill="#008bfb" stroke="#0077e1" stroke-width="0.9"/><circle cx="558.7" cy="673.3" r="5.45" fill="#008bfb" stroke="#0077e1" stroke-width="0.9"/><circle cx="577.2" cy="673.3" r="5.45" fill="#0088fa" stroke="#0074e1" stroke-width="0.9"/><circle cx="596.8" cy="673.3" r="5.45" fill="#0088fa" stroke="#0074e1" stroke-width="0.9"/><circle cx="571.4" cy="666" r="5.45" fill="#0088fa" stroke="#0074e1" stroke-width="0.9"/><circle cx="583.7" cy="666" r="5.45" fill="#0088fa" stroke="#0074e1" stroke-width="0.9"/><circle cx="570.1" cy="680.7" r="5.45" fill="#0088fa" stroke="#0074e1" stroke-width="0.9"/><circle cx="584.4" cy="680.7" r="5.45" fill="#0088fa" stroke="#0074e1" stroke-width="0.9"/><circle cx="626.9" cy="659.2" r="5.45" fill="#0088fa" stroke="#0074e1" stroke-width="0.9"/><circle cx="653" cy="659.2" r="5.45" fill="#0088fa" stroke="#0074e1" stroke-width="0.9"/><circle cx="677.1" cy="659.2" r="5.45" fill="#0088fa" stroke="#0074e1" stroke-width="0.9"/><circle cx="633.5" cy="666" r="5.45" fill="#0085f9" stroke="#0072e0" stroke-width="0.9"/><circle cx="647.8" cy="666" r="5.45" fill="#0082f8" stroke="#006fdf" stroke-width="0.9"/><circle cx="669.9" cy="666" r="5.45" fill="#0082f8" stroke="#006fdf" stroke-width="0.9"/><circle cx="676.4" cy="666" r="5.45" fill="#246cea" stroke="#1e5cd2" stroke-width="0.9"/><circle cx="688.2" cy="666" r="5.45" fill="#007ff7" stroke="#006dde" stroke-width="0.9"/><circle cx="731.8" cy="666" r="5.45" fill="#0082f8" stroke="#006fdf" stroke-width="0.9"/><circle cx="740.9" cy="666" r="5.45" fill="#3769e8" stroke="#2f5ad0" stroke-width="0.9"/><circle cx="804.1" cy="666" r="5.45" fill="#8a3ec1" stroke="#7635ad" stroke-width="0.9"/><circle cx="624.3" cy="673.3" r="5.45" fill="#0084f9" stroke="#0071e0" stroke-width="0.9"/><circle cx="637.4" cy="673.3" r="5.45" fill="#0085f9" stroke="#0072e0" stroke-width="0.9"/><circle cx="646.5" cy="673.3" r="5.45" fill="#246cea" stroke="#1e5cd2" stroke-width="0.9"/><circle cx="663.4" cy="673.3" r="5.45" fill="#0082f8" stroke="#006fdf" stroke-width="0.9"/><circle cx="679.7" cy="673.3" r="5.45" fill="#0084f9" stroke="#0071e0" stroke-width="0.9"/><circle cx="699.9" cy="673.3" r="5.45" fill="#4565e5" stroke="#3b56ce" stroke-width="0.9"/><circle cx="711.6" cy="673.3" r="5.45" fill="#3769e8" stroke="#2f5ad0" stroke-width="0.9"/><circle cx="720.7" cy="673.3" r="5.45" fill="#4565e5" stroke="#3b56ce" stroke-width="0.9"/><circle cx="727.3" cy="673.3" r="5.45" fill="#4b63e3" stroke="#4055cc" stroke-width="0.9"/><circle cx="738.3" cy="673.3" r="5.45" fill="#4565e5" stroke="#3b56ce" stroke-width="0.9"/><circle cx="763.1" cy="673.3" r="5.45" fill="#565fe0" stroke="#4951c9" stroke-width="0.9"/><circle cx="771.6" cy="673.3" r="5.45" fill="#565fe0" stroke="#4951c9" stroke-width="0.9"/><circle cx="787.2" cy="673.3" r="5.45" fill="#565fe0" stroke="#4951c9" stroke-width="0.9"/><circle cx="808" cy="673.3" r="5.45" fill="#8443c6" stroke="#7139b2" stroke-width="0.9"/><circle cx="624.3" cy="680.7" r="5.45" fill="#0082f8" stroke="#006fdf" stroke-width="0.9"/><circle cx="636.1" cy="680.7" r="5.45" fill="#0082f8" stroke="#006fdf" stroke-width="0.9"/><circle cx="651.7" cy="680.7" r="5.45" fill="#0085f9" stroke="#0072e0" stroke-width="0.9"/><circle cx="678.4" cy="680.7" r="5.45" fill="#0085f9" stroke="#0072e0" stroke-width="0.9"/><circle cx="684.3" cy="680.7" r="5.45" fill="#0082f8" stroke="#006fdf" stroke-width="0.9"/><circle cx="729.9" cy="680.7" r="5.45" fill="#4565e5" stroke="#3b56ce" stroke-width="0.9"/><circle cx="805.4" cy="680.7" r="5.45" fill="#8a3ec1" stroke="#7635ad" stroke-width="0.9"/><circle cx="872.1" cy="659.2" r="5.45" fill="#a21fab" stroke="#8b1a99" stroke-width="0.9"/><circle cx="972.4" cy="659.2" r="5.45" fill="#c90098" stroke="#ac0088" stroke-width="0.9"/><circle cx="987.4" cy="659.2" r="5.45" fill="#c90098" stroke="#ac0088" stroke-width="0.9"/><circle cx="822.6" cy="666" r="5.45" fill="#9135ba" stroke="#7c2da7" stroke-width="0.9"/><circle cx="834.3" cy="666" r="5.45" fill="#8c3bbf" stroke="#7832ab" stroke-width="0.9"/><circle cx="843.4" cy="666" r="5.45" fill="#8c3bbf" stroke="#7832ab" stroke-width="0.9"/><circle cx="855.1" cy="666" r="5.45" fill="#8a3ec1" stroke="#7635ad" stroke-width="0.9"/><circle cx="878.6" cy="666" r="5.45" fill="#a21fab" stroke="#8b1a99" stroke-width="0.9"/><circle cx="889" cy="666" r="5.45" fill="#9b23ad" stroke="#851e9b" stroke-width="0.9"/><circle cx="953.5" cy="666" r="5.45" fill="#c90098" stroke="#ac0088" stroke-width="0.9"/><circle cx="970.5" cy="666" r="5.45" fill="#635adb" stroke="#554dc5" stroke-width="0.9"/><circle cx="985.4" cy="666" r="5.45" fill="#cb0096" stroke="#ae0087" stroke-width="0.9"/><circle cx="826.5" cy="673.3" r="5.45" fill="#4b63e3" stroke="#4055cc" stroke-width="0.9"/><circle cx="838.9" cy="673.3" r="5.45" fill="#9135ba" stroke="#7c2da7" stroke-width="0.9"/><circle cx="849.9" cy="673.3" r="5.45" fill="#8a3ec1" stroke="#7635ad" stroke-width="0.9"/><circle cx="862.3" cy="673.3" r="5.45" fill="#8443c6" stroke="#7139b2" stroke-width="0.9"/><circle cx="874.7" cy="673.3" r="5.45" fill="#9b23ad" stroke="#851e9b" stroke-width="0.9"/><circle cx="887.7" cy="673.3" r="5.45" fill="#635adb" stroke="#554dc5" stroke-width="0.9"/><circle cx="902.1" cy="673.3" r="5.45" fill="#a21fab" stroke="#8b1a99" stroke-width="0.9"/><circle cx="907.3" cy="673.3" r="5.45" fill="#a21fab" stroke="#8b1a99" stroke-width="0.9"/><circle cx="917.7" cy="673.3" r="5.45" fill="#ac16a7" stroke="#931296" stroke-width="0.9"/><circle cx="940.5" cy="673.3" r="5.45" fill="#7f48cb" stroke="#6d3db6" stroke-width="0.9"/><circle cx="952.9" cy="673.3" r="5.45" fill="#c90098" stroke="#ac0088" stroke-width="0.9"/><circle cx="963.3" cy="673.3" r="5.45" fill="#c90098" stroke="#ac0088" stroke-width="0.9"/><circle cx="976.3" cy="673.3" r="5.45" fill="#cb0096" stroke="#ae0087" stroke-width="0.9"/><circle cx="988" cy="673.3" r="5.45" fill="#cb0096" stroke="#ae0087" stroke-width="0.9"/><circle cx="852.5" cy="680.7" r="5.45" fill="#972bb2" stroke="#8124a0" stroke-width="0.9"/><circle cx="869.5" cy="680.7" r="5.45" fill="#ac16a7" stroke="#931296" stroke-width="0.9"/><circle cx="879.9" cy="680.7" r="5.45" fill="#b509a3" stroke="#9b0792" stroke-width="0.9"/><circle cx="893.6" cy="680.7" r="5.45" fill="#ac16a7" stroke="#931296" stroke-width="0.9"/><circle cx="967.2" cy="680.7" r="5.45" fill="#cb0096" stroke="#ae0087" stroke-width="0.9"/><circle cx="988" cy="680.7" r="5.45" fill="#cb0096" stroke="#ae0087" stroke-width="0.9"/><circle cx="1009.1" cy="644.9" r="5.45" fill="#d00093" stroke="#b20084" stroke-width="0.9"/><circle cx="1030.6" cy="644.9" r="5.45" fill="#d00093" stroke="#b20084" stroke-width="0.9"/><circle cx="1007.8" cy="652.1" r="5.45" fill="#d5008f" stroke="#b70080" stroke-width="0.9"/><circle cx="1026" cy="652.1" r="5.45" fill="#d9008c" stroke="#ba007e" stroke-width="0.9"/><circle cx="1015.6" cy="659.2" r="5.45" fill="#d9008c" stroke="#ba007e" stroke-width="0.9"/><circle cx="1027.3" cy="659.2" r="5.45" fill="#e00086" stroke="#c00078" stroke-width="0.9"/><circle cx="1046.2" cy="659.2" r="5.45" fill="#e9007c" stroke="#c8006f" stroke-width="0.9"/><circle cx="1066.4" cy="659.2" r="5.45" fill="#f20072" stroke="#d00066" stroke-width="0.9"/><circle cx="1000" cy="666" r="5.45" fill="#ac16a7" stroke="#931296" stroke-width="0.9"/><circle cx="1007.8" cy="666" r="5.45" fill="#bb00a0" stroke="#a00090" stroke-width="0.9"/><circle cx="1040.4" cy="666" r="5.45" fill="#ed0078" stroke="#cb006c" stroke-width="0.9"/><circle cx="1058.6" cy="666" r="5.45" fill="#bb00a0" stroke="#a00090" stroke-width="0.9"/><circle cx="1067.7" cy="666" r="5.45" fill="#f20072" stroke="#d00066" stroke-width="0.9"/><circle cx="1081.4" cy="666" r="5.45" fill="#c1009d" stroke="#a5008d" stroke-width="0.9"/><circle cx="1088.6" cy="666" r="5.45" fill="#f6006b" stroke="#d30060" stroke-width="0.9"/><circle cx="1121.1" cy="666" r="5.45" fill="#fe005c" stroke="#da0052" stroke-width="0.9"/><circle cx="1132.9" cy="666" r="5.45" fill="#fe005c" stroke="#da0052" stroke-width="0.9"/><circle cx="1145.2" cy="666" r="5.45" fill="#fe005c" stroke="#da0052" stroke-width="0.9"/><circle cx="992.1" cy="673.3" r="5.45" fill="#c1009d" stroke="#a5008d" stroke-width="0.9"/><circle cx="1003.9" cy="673.3" r="5.45" fill="#b509a3" stroke="#9b0792" stroke-width="0.9"/><circle cx="1013" cy="673.3" r="5.45" fill="#e00086" stroke="#c00078" stroke-width="0.9"/><circle cx="1024.7" cy="673.3" r="5.45" fill="#d9008c" stroke="#ba007e" stroke-width="0.9"/><circle cx="1035.1" cy="673.3" r="5.45" fill="#e9007c" stroke="#c8006f" stroke-width="0.9"/><circle cx="1046.9" cy="673.3" r="5.45" fill="#bb00a0" stroke="#a00090" stroke-width="0.9"/><circle cx="1053.4" cy="673.3" r="5.45" fill="#f20072" stroke="#d00066" stroke-width="0.9"/><circle cx="1063.8" cy="673.3" r="5.45" fill="#f20072" stroke="#d00066" stroke-width="0.9"/><circle cx="1074.2" cy="673.3" r="5.45" fill="#f6006b" stroke="#d30060" stroke-width="0.9"/><circle cx="1092.5" cy="673.3" r="5.45" fill="#f90067" stroke="#d6005c" stroke-width="0.9"/><circle cx="1122.4" cy="673.3" r="5.45" fill="#ff0058" stroke="#db004f" stroke-width="0.9"/><circle cx="1130.3" cy="673.3" r="5.45" fill="#ff0058" stroke="#db004f" stroke-width="0.9"/><circle cx="1147.2" cy="673.3" r="5.45" fill="#ff0058" stroke="#db004f" stroke-width="0.9"/><circle cx="990.8" cy="680.7" r="5.45" fill="#c1009d" stroke="#a5008d" stroke-width="0.9"/><circle cx="1007.8" cy="680.7" r="5.45" fill="#c1009d" stroke="#a5008d" stroke-width="0.9"/><circle cx="1022.1" cy="680.7" r="5.45" fill="#c90098" stroke="#ac0088" stroke-width="0.9"/><circle cx="1043" cy="680.7" r="5.45" fill="#ed0078" stroke="#cb006c" stroke-width="0.9"/><circle cx="1058.6" cy="680.7" r="5.45" fill="#f20072" stroke="#d00066" stroke-width="0.9"/><circle cx="1075.5" cy="680.7" r="5.45" fill="#f6006b" stroke="#d30060" stroke-width="0.9"/><circle cx="1088.6" cy="680.7" r="5.45" fill="#f90067" stroke="#d6005c" stroke-width="0.9"/><circle cx="1013" cy="687.9" r="5.45" fill="#d5008f" stroke="#b70080" stroke-width="0.9"/><circle cx="1029.9" cy="687.9" r="5.45" fill="#c1009d" stroke="#a5008d" stroke-width="0.9"/><circle cx="1045.6" cy="687.9" r="5.45" fill="#ed0078" stroke="#cb006c" stroke-width="0.9"/><circle cx="1013" cy="694.4" r="5.45" fill="#d9008c" stroke="#ba007e" stroke-width="0.9"/><circle cx="1030.6" cy="694.4" r="5.45" fill="#c1009d" stroke="#a5008d" stroke-width="0.9"/><circle cx="1184.5" cy="673.3" r="5.45" fill="#d5008f" stroke="#b70080" stroke-width="0.9"/><circle cx="1188.8" cy="673.3" r="5.45" fill="#ff0051" stroke="#db0048" stroke-width="0.9"/><circle cx="1199.5" cy="673.3" r="5.45" fill="#ff0051" stroke="#db0048" stroke-width="0.9"/><circle cx="1246.4" cy="673.3" r="5.45" fill="#ff0051" stroke="#db0048" stroke-width="0.9"/><circle cx="1303.1" cy="673.3" r="5.45" fill="#a21fab" stroke="#8b1a99" stroke-width="0.9"/><circle cx="995" cy="673.3" r="5.45" fill="#d5008f" stroke="#b70080" stroke-width="0.9"/><circle cx="1005" cy="673.3" r="5.45" fill="#e00086" stroke="#c00078" stroke-width="0.9"/><circle cx="1015" cy="673.3" r="5.45" fill="#f6006b" stroke="#d30060" stroke-width="0.9"/><circle cx="1030" cy="673.3" r="5.45" fill="#fb0063" stroke="#d70059" stroke-width="0.9"/><circle cx="1040" cy="673.3" r="5.45" fill="#f90067" stroke="#d6005c" stroke-width="0.9"/><circle cx="985" cy="666" r="5.45" fill="#c1009d" stroke="#a5008d" stroke-width="0.9"/><circle cx="1000" cy="666" r="5.45" fill="#d5008f" stroke="#b70080" stroke-width="0.9"/><circle cx="1012" cy="666" r="5.45" fill="#e00086" stroke="#c00078" stroke-width="0.9"/><circle cx="1022" cy="666" r="5.45" fill="#e9007c" stroke="#c8006f" stroke-width="0.9"/><circle cx="990" cy="680.7" r="5.45" fill="#c90098" stroke="#ac0088" stroke-width="0.9"/><circle cx="1000" cy="680.7" r="5.45" fill="#d00093" stroke="#b20084" stroke-width="0.9"/><circle cx="1012" cy="680.7" r="5.45" fill="#d9008c" stroke="#ba007e" stroke-width="0.9"/><circle cx="1025" cy="680.7" r="5.45" fill="#e9007c" stroke="#c8006f" stroke-width="0.9"/><circle cx="1035" cy="680.7" r="5.45" fill="#ed0078" stroke="#cb006c" stroke-width="0.9"/><circle cx="1050" cy="680.7" r="5.45" fill="#f20072" stroke="#d00066" stroke-width="0.9"/><circle cx="1003" cy="659.2" r="5.45" fill="#d9008c" stroke="#ba007e" stroke-width="0.9"/><circle cx="1014" cy="659.2" r="5.45" fill="#e00086" stroke="#c00078" stroke-width="0.9"/><circle cx="975" cy="673.3" r="5.45" fill="#bb00a0" stroke="#a00090" stroke-width="0.9"/><circle cx="968" cy="666" r="5.45" fill="#ac16a7" stroke="#931296" stroke-width="0.9"/><circle cx="880" cy="673.3" r="5.45" fill="#9135ba" stroke="#7c2da7" stroke-width="0.9"/><circle cx="998" cy="666.3" r="5.45" fill="#a21fab" stroke="#8b1a99" stroke-width="0.9"/><circle cx="1006" cy="669.3" r="5.45" fill="#9b23ad" stroke="#851e9b" stroke-width="0.9"/><circle cx="970.5" cy="666" r="5.45" fill="#635adb" stroke="#554dc5" stroke-width="0.9"/><circle cx="774.1" cy="768.9" r="5.45" fill="#c90098" stroke="#ac0088" stroke-width="0.9"/><circle cx="789.3" cy="768.9" r="5.45" fill="#c90098" stroke="#ac0088" stroke-width="0.9"/><circle cx="806.1" cy="768.9" r="5.45" fill="#bb00a0" stroke="#a00090" stroke-width="0.9"/><circle cx="817.9" cy="768.9" r="5.45" fill="#9b23ad" stroke="#851e9b" stroke-width="0.9"/><circle cx="825.7" cy="762.7" r="5.45" fill="#ac16a7" stroke="#931296" stroke-width="0.9"/><circle cx="831.1" cy="762.7" r="5.45" fill="#b509a3" stroke="#9b0792" stroke-width="0.9"/><circle cx="831.9" cy="774.4" r="5.45" fill="#c90098" stroke="#ac0088" stroke-width="0.9"/><circle cx="838.2" cy="772" r="5.45" fill="#c90098" stroke="#ac0088" stroke-width="0.9"/><circle cx="839" cy="763.4" r="5.45" fill="#e9007c" stroke="#c8006f" stroke-width="0.9"/><circle cx="842.1" cy="751.7" r="5.45" fill="#b509a3" stroke="#9b0792" stroke-width="0.9"/><circle cx="842.1" cy="780.6" r="5.45" fill="#c1009d" stroke="#a5008d" stroke-width="0.9"/><circle cx="849.9" cy="768.9" r="5.45" fill="#c1009d" stroke="#a5008d" stroke-width="0.9"/><circle cx="850.7" cy="761.1" r="5.45" fill="#ac16a7" stroke="#931296" stroke-width="0.9"/><circle cx="856.2" cy="772.8" r="5.45" fill="#9b23ad" stroke="#851e9b" stroke-width="0.9"/><circle cx="860.1" cy="758.8" r="5.45" fill="#e9007c" stroke="#c8006f" stroke-width="0.9"/><circle cx="867.1" cy="750.9" r="5.45" fill="#e00086" stroke="#c00078" stroke-width="0.9"/><circle cx="864.8" cy="768.1" r="5.45" fill="#fe005c" stroke="#da0052" stroke-width="0.9"/><circle cx="867.5" cy="786.1" r="5.45" fill="#635adb" stroke="#554dc5" stroke-width="0.9"/><circle cx="867.1" cy="781.4" r="5.45" fill="#bb00a0" stroke="#a00090" stroke-width="0.9"/><circle cx="867.5" cy="774.4" r="5.45" fill="#635adb" stroke="#554dc5" stroke-width="0.9"/><circle cx="875.7" cy="750.9" r="5.45" fill="#9135ba" stroke="#7c2da7" stroke-width="0.9"/><circle cx="875.7" cy="779.1" r="5.45" fill="#9b23ad" stroke="#851e9b" stroke-width="0.9"/><circle cx="871" cy="761.1" r="5.45" fill="#f20072" stroke="#d00066" stroke-width="0.9"/><circle cx="877.3" cy="761.1" r="5.45" fill="#754fd1" stroke="#6443bc" stroke-width="0.9"/><circle cx="887.8" cy="740.4" r="5.45" fill="#635adb" stroke="#554dc5" stroke-width="0.9"/><circle cx="883.5" cy="745.5" r="5.45" fill="#ac16a7" stroke="#931296" stroke-width="0.9"/><circle cx="876.8" cy="750.9" r="5.45" fill="#ac16a7" stroke="#931296" stroke-width="0.9"/><circle cx="886.6" cy="750.9" r="5.45" fill="#8443c6" stroke="#7139b2" stroke-width="0.9"/><circle cx="890.5" cy="757.2" r="5.45" fill="#754fd1" stroke="#6443bc" stroke-width="0.9"/><circle cx="864.7" cy="758.8" r="5.45" fill="#f90067" stroke="#d6005c" stroke-width="0.9"/><circle cx="871.7" cy="761.1" r="5.45" fill="#f90067" stroke="#d6005c" stroke-width="0.9"/><circle cx="879.5" cy="758.8" r="5.45" fill="#ac16a7" stroke="#931296" stroke-width="0.9"/><circle cx="862.3" cy="768.9" r="5.45" fill="#fe005c" stroke="#da0052" stroke-width="0.9"/><circle cx="870.2" cy="766.6" r="5.45" fill="#fe005c" stroke="#da0052" stroke-width="0.9"/><circle cx="878" cy="768.9" r="5.45" fill="#d5008f" stroke="#b70080" stroke-width="0.9"/><circle cx="886.6" cy="767.4" r="5.45" fill="#754fd1" stroke="#6443bc" stroke-width="0.9"/><circle cx="888.9" cy="773.6" r="5.45" fill="#f90067" stroke="#d6005c" stroke-width="0.9"/><circle cx="878" cy="776.7" r="5.45" fill="#bb00a0" stroke="#a00090" stroke-width="0.9"/><circle cx="867.8" cy="782.2" r="5.45" fill="#bb00a0" stroke="#a00090" stroke-width="0.9"/><circle cx="875.6" cy="780.6" r="5.45" fill="#ac16a7" stroke="#931296" stroke-width="0.9"/><circle cx="887.4" cy="783.8" r="5.45" fill="#754fd1" stroke="#6443bc" stroke-width="0.9"/><circle cx="886.6" cy="792.4" r="5.45" fill="#fe005c" stroke="#da0052" stroke-width="0.9"/><circle cx="897.5" cy="768.1" r="5.45" fill="#635adb" stroke="#554dc5" stroke-width="0.9"/><circle cx="902.2" cy="761.9" r="5.45" fill="#635adb" stroke="#554dc5" stroke-width="0.9"/><circle cx="903.8" cy="768.9" r="5.45" fill="#754fd1" stroke="#6443bc" stroke-width="0.9"/><circle cx="902.6" cy="776" r="5.45" fill="#fe005c" stroke="#da0052" stroke-width="0.9"/><circle cx="910.8" cy="768.1" r="5.45" fill="#fe005c" stroke="#da0052" stroke-width="0.9"/><circle cx="914.7" cy="756.4" r="5.45" fill="#0088fa" stroke="#0074e1" stroke-width="0.9"/><circle cx="914" cy="774.4" r="5.45" fill="#246cea" stroke="#1e5cd2" stroke-width="0.9"/><circle cx="917.9" cy="768.1" r="5.45" fill="#0075f0" stroke="#0064d8" stroke-width="0.9"/><circle cx="928" cy="769.7" r="5.45" fill="#fe005c" stroke="#da0052" stroke-width="0.9"/><circle cx="930.4" cy="762.7" r="5.45" fill="#0088fa" stroke="#0074e1" stroke-width="0.9"/><circle cx="938.2" cy="768.1" r="5.45" fill="#246cea" stroke="#1e5cd2" stroke-width="0.9"/><circle cx="946" cy="756.4" r="5.45" fill="#0088fa" stroke="#0074e1" stroke-width="0.9"/><circle cx="944.4" cy="768.1" r="5.45" fill="#0084f9" stroke="#0071e0" stroke-width="0.9"/><circle cx="944.4" cy="779.9" r="5.45" fill="#0088fa" stroke="#0074e1" stroke-width="0.9"/><circle cx="946" cy="774.4" r="5.45" fill="#007cf5" stroke="#006adc" stroke-width="0.9"/><circle cx="957.7" cy="761.9" r="5.45" fill="#0075f0" stroke="#0064d8" stroke-width="0.9"/><circle cx="960.9" cy="768.9" r="5.45" fill="#ac16a7" stroke="#931296" stroke-width="0.9"/><circle cx="969.5" cy="761.1" r="5.45" fill="#9135ba" stroke="#7c2da7" stroke-width="0.9"/><circle cx="969.5" cy="768.9" r="5.45" fill="#0086fa" stroke="#0073e1" stroke-width="0.9"/><circle cx="976.5" cy="761.9" r="5.45" fill="#0086fa" stroke="#0073e1" stroke-width="0.9"/><circle cx="976.5" cy="769.7" r="5.45" fill="#0086fa" stroke="#0073e1" stroke-width="0.9"/><circle cx="984.3" cy="769.2" r="5.45" fill="#0086fa" stroke="#0073e1" stroke-width="0.9"/><circle cx="996.4" cy="769.2" r="5.45" fill="#ff0051" stroke="#db0048" stroke-width="0.9"/><circle cx="822" cy="768.9" r="5.45" fill="#bb00a0" stroke="#a00090" stroke-width="0.9"/><circle cx="828" cy="774.3" r="5.45" fill="#c1009d" stroke="#a5008d" stroke-width="0.9"/><circle cx="835" cy="768.3" r="5.45" fill="#d5008f" stroke="#b70080" stroke-width="0.9"/><circle cx="845" cy="770.3" r="5.45" fill="#d9008c" stroke="#ba007e" stroke-width="0.9"/><circle cx="848" cy="762.3" r="5.45" fill="#e00086" stroke="#c00078" stroke-width="0.9"/><circle cx="838" cy="777.3" r="5.45" fill="#c90098" stroke="#ac0088" stroke-width="0.9"/><circle cx="853" cy="777.3" r="5.45" fill="#bb00a0" stroke="#a00090" stroke-width="0.9"/><circle cx="857" cy="765.3" r="5.45" fill="#e60080" stroke="#c50073" stroke-width="0.9"/><circle cx="862" cy="762.3" r="5.45" fill="#f90067" stroke="#d6005c" stroke-width="0.9"/><circle cx="866" cy="755.3" r="5.45" fill="#e9007c" stroke="#c8006f" stroke-width="0.9"/><circle cx="880" cy="764.3" r="5.45" fill="#9b23ad" stroke="#851e9b" stroke-width="0.9"/><circle cx="883" cy="776.3" r="5.45" fill="#9135ba" stroke="#7c2da7" stroke-width="0.9"/><circle cx="893" cy="762.3" r="5.45" fill="#754fd1" stroke="#6443bc" stroke-width="0.9"/><circle cx="893" cy="778.3" r="5.45" fill="#635adb" stroke="#554dc5" stroke-width="0.9"/><circle cx="876" cy="771.3" r="5.45" fill="#8443c6" stroke="#7139b2" stroke-width="0.9"/><circle cx="905" cy="760.3" r="5.45" fill="#635adb" stroke="#554dc5" stroke-width="0.9"/><circle cx="908" cy="772.3" r="5.45" fill="#754fd1" stroke="#6443bc" stroke-width="0.9"/><circle cx="920" cy="763.3" r="5.45" fill="#4b63e3" stroke="#4055cc" stroke-width="0.9"/><circle cx="921" cy="774.3" r="5.45" fill="#5a5ede" stroke="#4d50c7" stroke-width="0.9"/><circle cx="935" cy="766.3" r="5.45" fill="#0084f9" stroke="#0071e0" stroke-width="0.9"/><circle cx="940" cy="760.3" r="5.45" fill="#0088fa" stroke="#0074e1" stroke-width="0.9"/><circle cx="950" cy="763.3" r="5.45" fill="#0084f9" stroke="#0071e0" stroke-width="0.9"/><circle cx="951" cy="771.3" r="5.45" fill="#0088fa" stroke="#0074e1" stroke-width="0.9"/><circle cx="953" cy="778.3" r="5.45" fill="#0084f9" stroke="#0071e0" stroke-width="0.9"/><circle cx="940" cy="775.3" r="5.45" fill="#007cf5" stroke="#006adc" stroke-width="0.9"/><circle cx="963" cy="762.3" r="5.45" fill="#007cf5" stroke="#006adc" stroke-width="0.9"/><circle cx="980" cy="765.3" r="5.45" fill="#0084f9" stroke="#0071e0" stroke-width="0.9"/><circle cx="973" cy="774.3" r="5.45" fill="#0084f9" stroke="#0071e0" stroke-width="0.9"/><circle cx="786.4" cy="864.8" r="5.45" fill="#ff0051" stroke="#db0048" stroke-width="0.9"/><circle cx="793.5" cy="864.8" r="5.45" fill="#ff0051" stroke="#db0048" stroke-width="0.9"/><circle cx="801.3" cy="864.8" r="5.45" fill="#ff0051" stroke="#db0048" stroke-width="0.9"/><circle cx="807.5" cy="864.8" r="5.45" fill="#bb00a0" stroke="#a00090" stroke-width="0.9"/><circle cx="813.8" cy="864.8" r="5.45" fill="#f20072" stroke="#d00066" stroke-width="0.9"/><circle cx="820.8" cy="864.8" r="5.45" fill="#f20072" stroke="#d00066" stroke-width="0.9"/><circle cx="828.6" cy="864.8" r="5.45" fill="#f90067" stroke="#d6005c" stroke-width="0.9"/><circle cx="834.1" cy="864.8" r="5.45" fill="#fe005c" stroke="#da0052" stroke-width="0.9"/><circle cx="789.9" cy="855.4" r="5.45" fill="#ff0051" stroke="#db0048" stroke-width="0.9"/><circle cx="832.2" cy="855.4" r="5.45" fill="#f90067" stroke="#d6005c" stroke-width="0.9"/><circle cx="842.7" cy="855.4" r="5.45" fill="#635adb" stroke="#554dc5" stroke-width="0.9"/><circle cx="846.6" cy="855.4" r="5.45" fill="#ff0051" stroke="#db0048" stroke-width="0.9"/><circle cx="859.9" cy="855.4" r="5.45" fill="#635adb" stroke="#554dc5" stroke-width="0.9"/><circle cx="877.1" cy="855.4" r="5.45" fill="#9135ba" stroke="#7c2da7" stroke-width="0.9"/><circle cx="859.5" cy="847.2" r="5.45" fill="#5a5ede" stroke="#4d50c7" stroke-width="0.9"/><circle cx="870.5" cy="847.2" r="5.45" fill="#e9007c" stroke="#c8006f" stroke-width="0.9"/><circle cx="886.5" cy="847.2" r="5.45" fill="#bb00a0" stroke="#a00090" stroke-width="0.9"/><circle cx="845.1" cy="873.4" r="5.45" fill="#fe005c" stroke="#da0052" stroke-width="0.9"/><circle cx="852.1" cy="873.4" r="5.45" fill="#f90067" stroke="#d6005c" stroke-width="0.9"/><circle cx="859.9" cy="873.4" r="5.45" fill="#9b23ad" stroke="#851e9b" stroke-width="0.9"/><circle cx="869.3" cy="873.4" r="5.45" fill="#8443c6" stroke="#7139b2" stroke-width="0.9"/><circle cx="879.5" cy="873.4" r="5.45" fill="#c90098" stroke="#ac0088" stroke-width="0.9"/><circle cx="870.9" cy="882.4" r="5.45" fill="#754fd1" stroke="#6443bc" stroke-width="0.9"/><circle cx="843.5" cy="864.8" r="5.45" fill="#754fd1" stroke="#6443bc" stroke-width="0.9"/><circle cx="852.1" cy="864.8" r="5.45" fill="#754fd1" stroke="#6443bc" stroke-width="0.9"/><circle cx="863.8" cy="864.8" r="5.45" fill="#8443c6" stroke="#7139b2" stroke-width="0.9"/><circle cx="871.6" cy="864.8" r="5.45" fill="#754fd1" stroke="#6443bc" stroke-width="0.9"/><circle cx="881" cy="864.8" r="5.45" fill="#e00086" stroke="#c00078" stroke-width="0.9"/><circle cx="887.3" cy="864.8" r="5.45" fill="#e00086" stroke="#c00078" stroke-width="0.9"/><circle cx="863.8" cy="855.4" r="5.45" fill="#8443c6" stroke="#7139b2" stroke-width="0.9"/><circle cx="871.6" cy="855.4" r="5.45" fill="#9b23ad" stroke="#851e9b" stroke-width="0.9"/><circle cx="886.5" cy="855.4" r="5.45" fill="#4b63e3" stroke="#4055cc" stroke-width="0.9"/><circle cx="889.6" cy="838.6" r="5.45" fill="#0088fa" stroke="#0074e1" stroke-width="0.9"/><circle cx="892.7" cy="838.2" r="5.45" fill="#0088fa" stroke="#0074e1" stroke-width="0.9"/><circle cx="922.8" cy="838.2" r="5.45" fill="#635adb" stroke="#554dc5" stroke-width="0.9"/><circle cx="887.2" cy="846.8" r="5.45" fill="#9b23ad" stroke="#851e9b" stroke-width="0.9"/><circle cx="893.5" cy="846.8" r="5.45" fill="#f20072" stroke="#d00066" stroke-width="0.9"/><circle cx="902.1" cy="846.8" r="5.45" fill="#0088fa" stroke="#0074e1" stroke-width="0.9"/><circle cx="907.5" cy="846.8" r="5.45" fill="#e00086" stroke="#c00078" stroke-width="0.9"/><circle cx="923.2" cy="846.8" r="5.45" fill="#0086fa" stroke="#0073e1" stroke-width="0.9"/><circle cx="888" cy="855.4" r="5.45" fill="#9135ba" stroke="#7c2da7" stroke-width="0.9"/><circle cx="893.5" cy="855.4" r="5.45" fill="#e9007c" stroke="#c8006f" stroke-width="0.9"/><circle cx="904.4" cy="855.4" r="5.45" fill="#0088fa" stroke="#0074e1" stroke-width="0.9"/><circle cx="909.1" cy="855.4" r="5.45" fill="#d5008f" stroke="#b70080" stroke-width="0.9"/><circle cx="920" cy="855.4" r="5.45" fill="#0086fa" stroke="#0073e1" stroke-width="0.9"/><circle cx="932.5" cy="855.4" r="5.45" fill="#4b63e3" stroke="#4055cc" stroke-width="0.9"/><circle cx="961.1" cy="855.4" r="5.45" fill="#635adb" stroke="#554dc5" stroke-width="0.9"/><circle cx="883.3" cy="864.8" r="5.45" fill="#f90067" stroke="#d6005c" stroke-width="0.9"/><circle cx="893.5" cy="864.8" r="5.45" fill="#c90098" stroke="#ac0088" stroke-width="0.9"/><circle cx="905.2" cy="864.8" r="5.45" fill="#246cea" stroke="#1e5cd2" stroke-width="0.9"/><circle cx="913.8" cy="864.8" r="5.45" fill="#246cea" stroke="#1e5cd2" stroke-width="0.9"/><circle cx="920.8" cy="864.8" r="5.45" fill="#bb00a0" stroke="#a00090" stroke-width="0.9"/><circle cx="929.4" cy="864.8" r="5.45" fill="#3769e8" stroke="#2f5ad0" stroke-width="0.9"/><circle cx="941.1" cy="864.8" r="5.45" fill="#9135ba" stroke="#7c2da7" stroke-width="0.9"/><circle cx="949" cy="864.8" r="5.45" fill="#4b63e3" stroke="#4055cc" stroke-width="0.9"/><circle cx="959.9" cy="864.8" r="5.45" fill="#007cf5" stroke="#006adc" stroke-width="0.9"/><circle cx="967.7" cy="864.8" r="5.45" fill="#0084f9" stroke="#0071e0" stroke-width="0.9"/><circle cx="980.2" cy="864.8" r="5.45" fill="#0086fa" stroke="#0073e1" stroke-width="0.9"/><circle cx="985.7" cy="864.8" r="5.45" fill="#0086fa" stroke="#0073e1" stroke-width="0.9"/><circle cx="891.9" cy="873.4" r="5.45" fill="#754fd1" stroke="#6443bc" stroke-width="0.9"/><circle cx="904.4" cy="873.4" r="5.45" fill="#0086fa" stroke="#0073e1" stroke-width="0.9"/><circle cx="915.3" cy="873.4" r="5.45" fill="#9b23ad" stroke="#851e9b" stroke-width="0.9"/><circle cx="921.6" cy="873.4" r="5.45" fill="#0088fa" stroke="#0074e1" stroke-width="0.9"/><circle cx="931.8" cy="873.4" r="5.45" fill="#246cea" stroke="#1e5cd2" stroke-width="0.9"/><circle cx="891.1" cy="882.4" r="5.45" fill="#635adb" stroke="#554dc5" stroke-width="0.9"/><circle cx="903.6" cy="882.4" r="5.45" fill="#d5008f" stroke="#b70080" stroke-width="0.9"/><circle cx="923.9" cy="882.4" r="5.45" fill="#0088fa" stroke="#0074e1" stroke-width="0.9"/><circle cx="838" cy="873.4" r="5.45" fill="#fe005c" stroke="#da0052" stroke-width="0.9"/><circle cx="865" cy="873.4" r="5.45" fill="#ac16a7" stroke="#931296" stroke-width="0.9"/><circle cx="875" cy="873.4" r="5.45" fill="#9b23ad" stroke="#851e9b" stroke-width="0.9"/><circle cx="886" cy="873.4" r="5.45" fill="#9b23ad" stroke="#851e9b" stroke-width="0.9"/><circle cx="897" cy="873.4" r="5.45" fill="#9135ba" stroke="#7c2da7" stroke-width="0.9"/><circle cx="840" cy="855.4" r="5.45" fill="#f90067" stroke="#d6005c" stroke-width="0.9"/><circle cx="852" cy="855.4" r="5.45" fill="#9b23ad" stroke="#851e9b" stroke-width="0.9"/><circle cx="866" cy="855.4" r="5.45" fill="#9135ba" stroke="#7c2da7" stroke-width="0.9"/><circle cx="880" cy="855.4" r="5.45" fill="#ac16a7" stroke="#931296" stroke-width="0.9"/><circle cx="897" cy="855.4" r="5.45" fill="#9b23ad" stroke="#851e9b" stroke-width="0.9"/><circle cx="837" cy="864.8" r="5.45" fill="#8443c6" stroke="#7139b2" stroke-width="0.9"/><circle cx="847" cy="864.8" r="5.45" fill="#7f48cb" stroke="#6d3db6" stroke-width="0.9"/><circle cx="858" cy="864.8" r="5.45" fill="#9135ba" stroke="#7c2da7" stroke-width="0.9"/><circle cx="876" cy="864.8" r="5.45" fill="#e9007c" stroke="#c8006f" stroke-width="0.9"/><circle cx="888" cy="864.8" r="5.45" fill="#d5008f" stroke="#b70080" stroke-width="0.9"/><circle cx="899" cy="864.8" r="5.45" fill="#ac16a7" stroke="#931296" stroke-width="0.9"/><circle cx="910" cy="864.8" r="5.45" fill="#246cea" stroke="#1e5cd2" stroke-width="0.9"/><circle cx="935" cy="864.8" r="5.45" fill="#4b63e3" stroke="#4055cc" stroke-width="0.9"/><circle cx="937" cy="855.4" r="5.45" fill="#0075f0" stroke="#0064d8" stroke-width="0.9"/><circle cx="945" cy="855.4" r="5.45" fill="#0084f9" stroke="#0071e0" stroke-width="0.9"/><circle cx="940" cy="873.4" r="5.45" fill="#635adb" stroke="#554dc5" stroke-width="0.9"/><circle cx="950" cy="873.4" r="5.45" fill="#4b63e3" stroke="#4055cc" stroke-width="0.9"/><circle cx="928" cy="873.4" r="5.45" fill="#9b23ad" stroke="#851e9b" stroke-width="0.9"/><circle cx="977" cy="864.8" r="5.45" fill="#0084f9" stroke="#0071e0" stroke-width="0.9"/><line x1="401.0" y1="960" x2="1347.4" y2="960" stroke="#000" stroke-width="2.5"/><line x1="523.4" y1="960" x2="523.4" y2="970" stroke="#000" stroke-width="2.3"/><text x="523.4" y="1003.4" font-size="31.6" text-anchor="middle" fill="#000">−2</text><line x1="702.9" y1="960" x2="702.9" y2="970" stroke="#000" stroke-width="2.3"/><text x="702.9" y="1003.4" font-size="31.6" text-anchor="middle" fill="#000">−1</text><line x1="882.4" y1="960" x2="882.4" y2="970" stroke="#000" stroke-width="2.3"/><text x="882.4" y="1003.4" font-size="31.6" text-anchor="middle" fill="#000">0</text><line x1="1061.8" y1="960" x2="1061.8" y2="970" stroke="#000" stroke-width="2.3"/><text x="1061.8" y="1003.4" font-size="31.6" text-anchor="middle" fill="#000">1</text><line x1="1241.3" y1="960" x2="1241.3" y2="970" stroke="#000" stroke-width="2.3"/><text x="1241.3" y="1003.4" font-size="31.6" text-anchor="middle" fill="#000">2</text><text x="335" y="687.3" font-size="37" text-anchor="end" fill="#111">CBMM</text><text x="335" y="782.6" font-size="37" text-anchor="end" fill="#111">eGFR Ratio</text><text x="335" y="878" font-size="37" text-anchor="end" fill="#111">Sarcopenia Index</text><text x="874.2" y="1049.2" font-size="37" text-anchor="middle" fill="#000">SHAP value (impact on model output)</text><rect x="1404.7" y="578.3" width="5.2" height="381.6" fill="url(#cb)"/><text x="1419.5" y="590.7" font-size="31.2" fill="#000">High</text><text x="1419.5" y="971.7" font-size="31.2" fill="#000">Low</text><text transform="translate(1525.2 769) rotate(-90)" font-size="34.5" text-anchor="middle" fill="#000">Feature value</text><text x="29.5" y="599.6" font-size="54.5" font-weight="bold" font-family="Liberation Serif, serif" fill="#000">(B)</text></g>
<g font-family="DejaVu Serif, Liberation Serif, serif"><line x1="401.6" y1="1225.3" x2="1347.4" y2="1225.3" stroke="#a8a8a8" stroke-width="1.8" stroke-dasharray="1.8 6.75"/><line x1="401.6" y1="1320.7" x2="1347.4" y2="1320.7" stroke="#a8a8a8" stroke-width="1.8" stroke-dasharray="1.8 6.75"/><line x1="401.6" y1="1416" x2="1347.4" y2="1416" stroke="#a8a8a8" stroke-width="1.8" stroke-dasharray="1.8 6.75"/><line x1="922.6" y1="1130.4" x2="922.6" y2="1511.7" stroke="#919191" stroke-width="4"/><circle cx="445" cy="1225" r="5.45" fill="#008bfb" stroke="#0077e1" stroke-width="0.9"/><circle cx="454.8" cy="1225" r="5.45" fill="#008bfb" stroke="#0077e1" stroke-width="0.9"/><circle cx="463.2" cy="1225" r="5.45" fill="#008bfb" stroke="#0077e1" stroke-width="0.9"/><circle cx="501.7" cy="1225" r="5.45" fill="#008bfb" stroke="#0077e1" stroke-width="0.9"/><circle cx="534" cy="1225" r="5.45" fill="#008bfb" stroke="#0077e1" stroke-width="0.9"/><circle cx="577.9" cy="1225" r="5.45" fill="#008bfb" stroke="#0077e1" stroke-width="0.9"/><circle cx="603.3" cy="1225" r="5.45" fill="#0088fa" stroke="#0074e1" stroke-width="0.9"/><circle cx="612.4" cy="1225" r="5.45" fill="#0088fa" stroke="#0074e1" stroke-width="0.9"/><circle cx="573.3" cy="1216.8" r="5.45" fill="#008bfb" stroke="#0077e1" stroke-width="0.9"/><circle cx="600.7" cy="1216.8" r="5.45" fill="#0088fa" stroke="#0074e1" stroke-width="0.9"/><circle cx="609.8" cy="1216.8" r="5.45" fill="#0088fa" stroke="#0074e1" stroke-width="0.9"/><circle cx="596.1" cy="1233.7" r="5.45" fill="#008bfb" stroke="#0077e1" stroke-width="0.9"/><circle cx="687.5" cy="1207" r="5.45" fill="#0088fa" stroke="#0074e1" stroke-width="0.9"/><circle cx="738.3" cy="1207" r="5.45" fill="#5a5ede" stroke="#4d50c7" stroke-width="0.9"/><circle cx="610" cy="1216.8" r="5.45" fill="#008bfb" stroke="#0077e1" stroke-width="0.9"/><circle cx="625" cy="1216.8" r="5.45" fill="#008bfb" stroke="#0077e1" stroke-width="0.9"/><circle cx="640.6" cy="1216.8" r="5.45" fill="#0084f9" stroke="#0071e0" stroke-width="0.9"/><circle cx="660.8" cy="1216.8" r="5.45" fill="#0086fa" stroke="#0073e1" stroke-width="0.9"/><circle cx="685.6" cy="1216.8" r="5.45" fill="#0088fa" stroke="#0074e1" stroke-width="0.9"/><circle cx="706.4" cy="1216.8" r="5.45" fill="#0084f9" stroke="#0071e0" stroke-width="0.9"/><circle cx="711.6" cy="1216.8" r="5.45" fill="#0084f9" stroke="#0071e0" stroke-width="0.9"/><circle cx="729.2" cy="1216.8" r="5.45" fill="#8443c6" stroke="#7139b2" stroke-width="0.9"/><circle cx="739.6" cy="1216.8" r="5.45" fill="#0084f9" stroke="#0071e0" stroke-width="0.9"/><circle cx="780" cy="1216.8" r="5.45" fill="#246cea" stroke="#1e5cd2" stroke-width="0.9"/><circle cx="612.6" cy="1225" r="5.45" fill="#008bfb" stroke="#0077e1" stroke-width="0.9"/><circle cx="629.5" cy="1225" r="5.45" fill="#008bfb" stroke="#0077e1" stroke-width="0.9"/><circle cx="645.8" cy="1225" r="5.45" fill="#0088fa" stroke="#0074e1" stroke-width="0.9"/><circle cx="662.1" cy="1225" r="5.45" fill="#0086fa" stroke="#0073e1" stroke-width="0.9"/><circle cx="668.6" cy="1225" r="5.45" fill="#4b63e3" stroke="#4055cc" stroke-width="0.9"/><circle cx="679.7" cy="1225" r="5.45" fill="#007cf5" stroke="#006adc" stroke-width="0.9"/><circle cx="688.2" cy="1225" r="5.45" fill="#0084f9" stroke="#0071e0" stroke-width="0.9"/><circle cx="698.6" cy="1225" r="5.45" fill="#0084f9" stroke="#0071e0" stroke-width="0.9"/><circle cx="707.1" cy="1225" r="5.45" fill="#0075f0" stroke="#0064d8" stroke-width="0.9"/><circle cx="714.2" cy="1225" r="5.45" fill="#246cea" stroke="#1e5cd2" stroke-width="0.9"/><circle cx="724.7" cy="1225" r="5.45" fill="#3769e8" stroke="#2f5ad0" stroke-width="0.9"/><circle cx="740.3" cy="1225" r="5.45" fill="#4b63e3" stroke="#4055cc" stroke-width="0.9"/><circle cx="752" cy="1225" r="5.45" fill="#4b63e3" stroke="#4055cc" stroke-width="0.9"/><circle cx="766.4" cy="1225" r="5.45" fill="#246cea" stroke="#1e5cd2" stroke-width="0.9"/><circle cx="779.4" cy="1225" r="5.45" fill="#3769e8" stroke="#2f5ad0" stroke-width="0.9"/><circle cx="800.2" cy="1225" r="5.45" fill="#0084f9" stroke="#0071e0" stroke-width="0.9"/><circle cx="809.3" cy="1225" r="5.45" fill="#246cea" stroke="#1e5cd2" stroke-width="0.9"/><circle cx="627.6" cy="1233.7" r="5.45" fill="#008bfb" stroke="#0077e1" stroke-width="0.9"/><circle cx="687.5" cy="1233.7" r="5.45" fill="#0088fa" stroke="#0074e1" stroke-width="0.9"/><circle cx="740.3" cy="1233.7" r="5.45" fill="#5a5ede" stroke="#4d50c7" stroke-width="0.9"/><circle cx="815.4" cy="1225" r="5.45" fill="#4b63e3" stroke="#4055cc" stroke-width="0.9"/><circle cx="841.9" cy="1225" r="5.45" fill="#4b63e3" stroke="#4055cc" stroke-width="0.9"/><circle cx="866.2" cy="1225" r="5.45" fill="#8443c6" stroke="#7139b2" stroke-width="0.9"/><circle cx="883.8" cy="1225" r="5.45" fill="#8a3ec1" stroke="#7635ad" stroke-width="0.9"/><circle cx="889.7" cy="1225" r="5.45" fill="#9135ba" stroke="#7c2da7" stroke-width="0.9"/><circle cx="902.1" cy="1225" r="5.45" fill="#9135ba" stroke="#7c2da7" stroke-width="0.9"/><circle cx="909.9" cy="1225" r="5.45" fill="#9b23ad" stroke="#851e9b" stroke-width="0.9"/><circle cx="918.3" cy="1225" r="5.45" fill="#635adb" stroke="#554dc5" stroke-width="0.9"/><circle cx="926.8" cy="1225" r="5.45" fill="#c1009d" stroke="#a5008d" stroke-width="0.9"/><circle cx="936.6" cy="1225" r="5.45" fill="#9135ba" stroke="#7c2da7" stroke-width="0.9"/><circle cx="948.3" cy="1225" r="5.45" fill="#bb00a0" stroke="#a00090" stroke-width="0.9"/><circle cx="960.7" cy="1225" r="5.45" fill="#635adb" stroke="#554dc5" stroke-width="0.9"/><circle cx="965.2" cy="1225" r="5.45" fill="#c1009d" stroke="#a5008d" stroke-width="0.9"/><circle cx="978.3" cy="1225" r="5.45" fill="#c1009d" stroke="#a5008d" stroke-width="0.9"/><circle cx="988.7" cy="1225" r="5.45" fill="#c90098" stroke="#ac0088" stroke-width="0.9"/><circle cx="868.2" cy="1216.8" r="5.45" fill="#8a3ec1" stroke="#7635ad" stroke-width="0.9"/><circle cx="882.5" cy="1216.8" r="5.45" fill="#8a3ec1" stroke="#7635ad" stroke-width="0.9"/><circle cx="901.4" cy="1216.8" r="5.45" fill="#9135ba" stroke="#7c2da7" stroke-width="0.9"/><circle cx="916.4" cy="1216.8" r="5.45" fill="#635adb" stroke="#554dc5" stroke-width="0.9"/><circle cx="920.9" cy="1216.8" r="5.45" fill="#9135ba" stroke="#7c2da7" stroke-width="0.9"/><circle cx="949" cy="1216.8" r="5.45" fill="#bb00a0" stroke="#a00090" stroke-width="0.9"/><circle cx="980.2" cy="1216.8" r="5.45" fill="#ac16a7" stroke="#931296" stroke-width="0.9"/><circle cx="897.5" cy="1207" r="5.45" fill="#8a3ec1" stroke="#7635ad" stroke-width="0.9"/><circle cx="924.2" cy="1207" r="5.45" fill="#c1009d" stroke="#a5008d" stroke-width="0.9"/><circle cx="949" cy="1207" r="5.45" fill="#8a3ec1" stroke="#7635ad" stroke-width="0.9"/><circle cx="897.5" cy="1233.7" r="5.45" fill="#8443c6" stroke="#7139b2" stroke-width="0.9"/><circle cx="913.1" cy="1233.7" r="5.45" fill="#9b23ad" stroke="#851e9b" stroke-width="0.9"/><circle cx="929.4" cy="1233.7" r="5.45" fill="#8a3ec1" stroke="#7635ad" stroke-width="0.9"/><circle cx="955.5" cy="1233.7" r="5.45" fill="#bb00a0" stroke="#a00090" stroke-width="0.9"/><circle cx="926.2" cy="1242.6" r="5.45" fill="#9b23ad" stroke="#851e9b" stroke-width="0.9"/><circle cx="951.6" cy="1242.6" r="5.45" fill="#ac16a7" stroke="#931296" stroke-width="0.9"/><circle cx="1037.8" cy="1199.2" r="5.45" fill="#c1009d" stroke="#a5008d" stroke-width="0.9"/><circle cx="1077.5" cy="1199.2" r="5.45" fill="#f90067" stroke="#d6005c" stroke-width="0.9"/><circle cx="1040.4" cy="1207" r="5.45" fill="#d5008f" stroke="#b70080" stroke-width="0.9"/><circle cx="1049.5" cy="1207" r="5.45" fill="#e60080" stroke="#c50073" stroke-width="0.9"/><circle cx="1078.1" cy="1207" r="5.45" fill="#ac16a7" stroke="#931296" stroke-width="0.9"/><circle cx="1086" cy="1207" r="5.45" fill="#e00086" stroke="#c00078" stroke-width="0.9"/><circle cx="1097.7" cy="1207" r="5.45" fill="#e9007c" stroke="#c8006f" stroke-width="0.9"/><circle cx="1104.2" cy="1207" r="5.45" fill="#e9007c" stroke="#c8006f" stroke-width="0.9"/><circle cx="1000" cy="1216.8" r="5.45" fill="#ac16a7" stroke="#931296" stroke-width="0.9"/><circle cx="1009.1" cy="1216.8" r="5.45" fill="#bb00a0" stroke="#a00090" stroke-width="0.9"/><circle cx="1040.4" cy="1216.8" r="5.45" fill="#e00086" stroke="#c00078" stroke-width="0.9"/><circle cx="1053.4" cy="1216.8" r="5.45" fill="#e00086" stroke="#c00078" stroke-width="0.9"/><circle cx="1065.1" cy="1216.8" r="5.45" fill="#4b63e3" stroke="#4055cc" stroke-width="0.9"/><circle cx="1083.4" cy="1216.8" r="5.45" fill="#f90067" stroke="#d6005c" stroke-width="0.9"/><circle cx="1097.7" cy="1216.8" r="5.45" fill="#f90067" stroke="#d6005c" stroke-width="0.9"/><circle cx="1106.8" cy="1216.8" r="5.45" fill="#ac16a7" stroke="#931296" stroke-width="0.9"/><circle cx="1112" cy="1216.8" r="5.45" fill="#d5008f" stroke="#b70080" stroke-width="0.9"/><circle cx="1126.4" cy="1216.8" r="5.45" fill="#f20072" stroke="#d00066" stroke-width="0.9"/><circle cx="1139.4" cy="1216.8" r="5.45" fill="#f90067" stroke="#d6005c" stroke-width="0.9"/><circle cx="1149.8" cy="1216.8" r="5.45" fill="#f90067" stroke="#d6005c" stroke-width="0.9"/><circle cx="1161.5" cy="1216.8" r="5.45" fill="#f90067" stroke="#d6005c" stroke-width="0.9"/><circle cx="990.2" cy="1225" r="5.45" fill="#c1009d" stroke="#a5008d" stroke-width="0.9"/><circle cx="1000" cy="1225" r="5.45" fill="#c90098" stroke="#ac0088" stroke-width="0.9"/><circle cx="1011.7" cy="1225" r="5.45" fill="#b509a3" stroke="#9b0792" stroke-width="0.9"/><circle cx="1023.4" cy="1225" r="5.45" fill="#bb00a0" stroke="#a00090" stroke-width="0.9"/><circle cx="1031.2" cy="1225" r="5.45" fill="#635adb" stroke="#554dc5" stroke-width="0.9"/><circle cx="1043" cy="1225" r="5.45" fill="#f90067" stroke="#d6005c" stroke-width="0.9"/><circle cx="1050.8" cy="1225" r="5.45" fill="#fe005c" stroke="#da0052" stroke-width="0.9"/><circle cx="1061.2" cy="1225" r="5.45" fill="#e9007c" stroke="#c8006f" stroke-width="0.9"/><circle cx="1070.3" cy="1225" r="5.45" fill="#c90098" stroke="#ac0088" stroke-width="0.9"/><circle cx="1079.4" cy="1225" r="5.45" fill="#d5008f" stroke="#b70080" stroke-width="0.9"/><circle cx="1087.3" cy="1225" r="5.45" fill="#c90098" stroke="#ac0088" stroke-width="0.9"/><circle cx="1099" cy="1225" r="5.45" fill="#fe005c" stroke="#da0052" stroke-width="0.9"/><circle cx="1108.1" cy="1225" r="5.45" fill="#e00086" stroke="#c00078" stroke-width="0.9"/><circle cx="1118.5" cy="1225" r="5.45" fill="#d5008f" stroke="#b70080" stroke-width="0.9"/><circle cx="1140.7" cy="1225" r="5.45" fill="#fe005c" stroke="#da0052" stroke-width="0.9"/><circle cx="1149.8" cy="1225" r="5.45" fill="#fe005c" stroke="#da0052" stroke-width="0.9"/><circle cx="1160.2" cy="1225" r="5.45" fill="#fe005c" stroke="#da0052" stroke-width="0.9"/><circle cx="1168" cy="1225" r="5.45" fill="#fe005c" stroke="#da0052" stroke-width="0.9"/><circle cx="1004.5" cy="1233.7" r="5.45" fill="#9b23ad" stroke="#851e9b" stroke-width="0.9"/><circle cx="1015" cy="1233.7" r="5.45" fill="#bb00a0" stroke="#a00090" stroke-width="0.9"/><circle cx="1032.5" cy="1233.7" r="5.45" fill="#ac16a7" stroke="#931296" stroke-width="0.9"/><circle cx="1043" cy="1233.7" r="5.45" fill="#d5008f" stroke="#b70080" stroke-width="0.9"/><circle cx="1053.4" cy="1233.7" r="5.45" fill="#e00086" stroke="#c00078" stroke-width="0.9"/><circle cx="1075.5" cy="1233.7" r="5.45" fill="#e00086" stroke="#c00078" stroke-width="0.9"/><circle cx="1084.7" cy="1233.7" r="5.45" fill="#c90098" stroke="#ac0088" stroke-width="0.9"/><circle cx="1100.3" cy="1233.7" r="5.45" fill="#d5008f" stroke="#b70080" stroke-width="0.9"/><circle cx="1106.8" cy="1233.7" r="5.45" fill="#bb00a0" stroke="#a00090" stroke-width="0.9"/><circle cx="1115.9" cy="1233.7" r="5.45" fill="#d5008f" stroke="#b70080" stroke-width="0.9"/><circle cx="1126.4" cy="1233.7" r="5.45" fill="#f20072" stroke="#d00066" stroke-width="0.9"/><circle cx="1142" cy="1233.7" r="5.45" fill="#fe005c" stroke="#da0052" stroke-width="0.9"/><circle cx="1150.5" cy="1233.7" r="5.45" fill="#fe005c" stroke="#da0052" stroke-width="0.9"/><circle cx="1033.8" cy="1242.6" r="5.45" fill="#d5008f" stroke="#b70080" stroke-width="0.9"/><circle cx="1078.1" cy="1242.6" r="5.45" fill="#c90098" stroke="#ac0088" stroke-width="0.9"/><circle cx="1091.2" cy="1242.6" r="5.45" fill="#fe005c" stroke="#da0052" stroke-width="0.9"/><circle cx="1104.9" cy="1242.6" r="5.45" fill="#f90067" stroke="#d6005c" stroke-width="0.9"/><circle cx="1171.5" cy="1216.8" r="5.45" fill="#d5008f" stroke="#b70080" stroke-width="0.9"/><circle cx="1181.9" cy="1216.8" r="5.45" fill="#fe005c" stroke="#da0052" stroke-width="0.9"/><circle cx="1201.9" cy="1216.8" r="5.45" fill="#c90098" stroke="#ac0088" stroke-width="0.9"/><circle cx="1187.1" cy="1225" r="5.45" fill="#fe005c" stroke="#da0052" stroke-width="0.9"/><circle cx="1199.3" cy="1225" r="5.45" fill="#fe005c" stroke="#da0052" stroke-width="0.9"/><circle cx="1251.9" cy="1225" r="5.45" fill="#ff0051" stroke="#db0048" stroke-width="0.9"/><circle cx="1303.1" cy="1225" r="5.45" fill="#ac16a7" stroke="#931296" stroke-width="0.9"/><circle cx="672" cy="1225" r="5.45" fill="#246cea" stroke="#1e5cd2" stroke-width="0.9"/><circle cx="690" cy="1225" r="5.45" fill="#0075f0" stroke="#0064d8" stroke-width="0.9"/><circle cx="703" cy="1225" r="5.45" fill="#3769e8" stroke="#2f5ad0" stroke-width="0.9"/><circle cx="725" cy="1225" r="5.45" fill="#4b63e3" stroke="#4055cc" stroke-width="0.9"/><circle cx="760" cy="1225" r="5.45" fill="#4b63e3" stroke="#4055cc" stroke-width="0.9"/><circle cx="770" cy="1225" r="5.45" fill="#3769e8" stroke="#2f5ad0" stroke-width="0.9"/><circle cx="708.8" cy="1320.8" r="5.45" fill="#ff0051" stroke="#db0048" stroke-width="0.9"/><circle cx="718.7" cy="1320.8" r="5.45" fill="#ff0051" stroke="#db0048" stroke-width="0.9"/><circle cx="741.1" cy="1320.8" r="5.45" fill="#ff0051" stroke="#db0048" stroke-width="0.9"/><circle cx="748.9" cy="1320.8" r="5.45" fill="#ff0051" stroke="#db0048" stroke-width="0.9"/><circle cx="761.9" cy="1320.8" r="5.45" fill="#ff0051" stroke="#db0048" stroke-width="0.9"/><circle cx="768.2" cy="1320.8" r="5.45" fill="#ff0051" stroke="#db0048" stroke-width="0.9"/><circle cx="779.6" cy="1320.8" r="5.45" fill="#ff0051" stroke="#db0048" stroke-width="0.9"/><circle cx="790.6" cy="1320.8" r="5.45" fill="#ff0051" stroke="#db0048" stroke-width="0.9"/><circle cx="801.5" cy="1320.8" r="5.45" fill="#e9007c" stroke="#c8006f" stroke-width="0.9"/><circle cx="809.9" cy="1320.8" r="5.45" fill="#f20072" stroke="#d00066" stroke-width="0.9"/><circle cx="817.7" cy="1320.8" r="5.45" fill="#635adb" stroke="#554dc5" stroke-width="0.9"/><circle cx="825.5" cy="1320.8" r="5.45" fill="#e9007c" stroke="#c8006f" stroke-width="0.9"/><circle cx="834.9" cy="1320.8" r="5.45" fill="#e00086" stroke="#c00078" stroke-width="0.9"/><circle cx="844.3" cy="1320.8" r="5.45" fill="#f20072" stroke="#d00066" stroke-width="0.9"/><circle cx="806.7" cy="1311.4" r="5.45" fill="#f90067" stroke="#d6005c" stroke-width="0.9"/><circle cx="820.3" cy="1311.4" r="5.45" fill="#e00086" stroke="#c00078" stroke-width="0.9"/><circle cx="830.2" cy="1311.4" r="5.45" fill="#bb00a0" stroke="#a00090" stroke-width="0.9"/><circle cx="842.2" cy="1311.4" r="5.45" fill="#e9007c" stroke="#c8006f" stroke-width="0.9"/><circle cx="848.4" cy="1311.4" r="5.45" fill="#fe005c" stroke="#da0052" stroke-width="0.9"/><circle cx="808.8" cy="1329.8" r="5.45" fill="#f90067" stroke="#d6005c" stroke-width="0.9"/><circle cx="841.7" cy="1329.8" r="5.45" fill="#635adb" stroke="#554dc5" stroke-width="0.9"/><circle cx="904.3" cy="1294.7" r="5.45" fill="#bb00a0" stroke="#a00090" stroke-width="0.9"/><circle cx="892.5" cy="1302.9" r="5.45" fill="#8443c6" stroke="#7139b2" stroke-width="0.9"/><circle cx="908.2" cy="1302.9" r="5.45" fill="#9135ba" stroke="#7c2da7" stroke-width="0.9"/><circle cx="922.3" cy="1302.9" r="5.45" fill="#9135ba" stroke="#7c2da7" stroke-width="0.9"/><circle cx="932.4" cy="1302.9" r="5.45" fill="#8443c6" stroke="#7139b2" stroke-width="0.9"/><circle cx="871.4" cy="1311.9" r="5.45" fill="#e9007c" stroke="#c8006f" stroke-width="0.9"/><circle cx="880" cy="1311.9" r="5.45" fill="#ac16a7" stroke="#931296" stroke-width="0.9"/><circle cx="894.9" cy="1311.9" r="5.45" fill="#9135ba" stroke="#7c2da7" stroke-width="0.9"/><circle cx="900.4" cy="1311.9" r="5.45" fill="#bb00a0" stroke="#a00090" stroke-width="0.9"/><circle cx="908.2" cy="1311.9" r="5.45" fill="#9b23ad" stroke="#851e9b" stroke-width="0.9"/><circle cx="918.4" cy="1311.9" r="5.45" fill="#e9007c" stroke="#c8006f" stroke-width="0.9"/><circle cx="930.9" cy="1311.9" r="5.45" fill="#754fd1" stroke="#6443bc" stroke-width="0.9"/><circle cx="940.2" cy="1311.9" r="5.45" fill="#007cf5" stroke="#006adc" stroke-width="0.9"/><circle cx="947.3" cy="1311.9" r="5.45" fill="#8443c6" stroke="#7139b2" stroke-width="0.9"/><circle cx="840.2" cy="1320.9" r="5.45" fill="#f90067" stroke="#d6005c" stroke-width="0.9"/><circle cx="855" cy="1320.9" r="5.45" fill="#9b23ad" stroke="#851e9b" stroke-width="0.9"/><circle cx="869.1" cy="1320.9" r="5.45" fill="#e9007c" stroke="#c8006f" stroke-width="0.9"/><circle cx="876.9" cy="1320.9" r="5.45" fill="#d5008f" stroke="#b70080" stroke-width="0.9"/><circle cx="884.7" cy="1320.9" r="5.45" fill="#754fd1" stroke="#6443bc" stroke-width="0.9"/><circle cx="893.3" cy="1320.9" r="5.45" fill="#8443c6" stroke="#7139b2" stroke-width="0.9"/><circle cx="909" cy="1320.9" r="5.45" fill="#f90067" stroke="#d6005c" stroke-width="0.9"/><circle cx="916.8" cy="1320.9" r="5.45" fill="#e00086" stroke="#c00078" stroke-width="0.9"/><circle cx="931.6" cy="1320.9" r="5.45" fill="#635adb" stroke="#554dc5" stroke-width="0.9"/><circle cx="939.5" cy="1320.9" r="5.45" fill="#754fd1" stroke="#6443bc" stroke-width="0.9"/><circle cx="947.3" cy="1320.9" r="5.45" fill="#246cea" stroke="#1e5cd2" stroke-width="0.9"/><circle cx="850.3" cy="1329.5" r="5.45" fill="#ff0051" stroke="#db0048" stroke-width="0.9"/><circle cx="884.7" cy="1329.5" r="5.45" fill="#9b23ad" stroke="#851e9b" stroke-width="0.9"/><circle cx="891" cy="1329.5" r="5.45" fill="#9135ba" stroke="#7c2da7" stroke-width="0.9"/><circle cx="907.4" cy="1329.5" r="5.45" fill="#754fd1" stroke="#6443bc" stroke-width="0.9"/><circle cx="922.3" cy="1329.5" r="5.45" fill="#246cea" stroke="#1e5cd2" stroke-width="0.9"/><circle cx="933.2" cy="1329.5" r="5.45" fill="#0088fa" stroke="#0074e1" stroke-width="0.9"/><circle cx="947.3" cy="1329.5" r="5.45" fill="#007cf5" stroke="#006adc" stroke-width="0.9"/><circle cx="900.4" cy="1338.1" r="5.45" fill="#8443c6" stroke="#7139b2" stroke-width="0.9"/><circle cx="905.8" cy="1338.1" r="5.45" fill="#c90098" stroke="#ac0088" stroke-width="0.9"/><circle cx="925.4" cy="1338.1" r="5.45" fill="#c90098" stroke="#ac0088" stroke-width="0.9"/><circle cx="973.8" cy="1302.9" r="5.45" fill="#0084f9" stroke="#0071e0" stroke-width="0.9"/><circle cx="955.8" cy="1311.9" r="5.45" fill="#4b63e3" stroke="#4055cc" stroke-width="0.9"/><circle cx="964.4" cy="1311.9" r="5.45" fill="#754fd1" stroke="#6443bc" stroke-width="0.9"/><circle cx="975.3" cy="1311.9" r="5.45" fill="#0084f9" stroke="#0071e0" stroke-width="0.9"/><circle cx="984.7" cy="1311.9" r="5.45" fill="#635adb" stroke="#554dc5" stroke-width="0.9"/><circle cx="992.5" cy="1311.9" r="5.45" fill="#0084f9" stroke="#0071e0" stroke-width="0.9"/><circle cx="1007.4" cy="1311.9" r="5.45" fill="#0084f9" stroke="#0071e0" stroke-width="0.9"/><circle cx="1022.3" cy="1311.9" r="5.45" fill="#0084f9" stroke="#0071e0" stroke-width="0.9"/><circle cx="1030.9" cy="1311.9" r="5.45" fill="#007cf5" stroke="#006adc" stroke-width="0.9"/><circle cx="1043.4" cy="1311.9" r="5.45" fill="#0084f9" stroke="#0071e0" stroke-width="0.9"/><circle cx="954.2" cy="1320.9" r="5.45" fill="#0075f0" stroke="#0064d8" stroke-width="0.9"/><circle cx="962.8" cy="1320.9" r="5.45" fill="#754fd1" stroke="#6443bc" stroke-width="0.9"/><circle cx="973.8" cy="1320.9" r="5.45" fill="#8443c6" stroke="#7139b2" stroke-width="0.9"/><circle cx="984.7" cy="1320.9" r="5.45" fill="#4b63e3" stroke="#4055cc" stroke-width="0.9"/><circle cx="996.5" cy="1320.9" r="5.45" fill="#0088fa" stroke="#0074e1" stroke-width="0.9"/><circle cx="1007.4" cy="1320.9" r="5.45" fill="#d5008f" stroke="#b70080" stroke-width="0.9"/><circle cx="1016" cy="1320.9" r="5.45" fill="#d5008f" stroke="#b70080" stroke-width="0.9"/><circle cx="1027.7" cy="1320.9" r="5.45" fill="#c90098" stroke="#ac0088" stroke-width="0.9"/><circle cx="1037.9" cy="1320.9" r="5.45" fill="#0088fa" stroke="#0074e1" stroke-width="0.9"/><circle cx="1045.7" cy="1320.9" r="5.45" fill="#0084f9" stroke="#0071e0" stroke-width="0.9"/><circle cx="955.8" cy="1329.5" r="5.45" fill="#8443c6" stroke="#7139b2" stroke-width="0.9"/><circle cx="963.6" cy="1329.5" r="5.45" fill="#635adb" stroke="#554dc5" stroke-width="0.9"/><circle cx="973.8" cy="1329.5" r="5.45" fill="#4b63e3" stroke="#4055cc" stroke-width="0.9"/><circle cx="986.3" cy="1329.5" r="5.45" fill="#c90098" stroke="#ac0088" stroke-width="0.9"/><circle cx="1022.3" cy="1329.5" r="5.45" fill="#0084f9" stroke="#0071e0" stroke-width="0.9"/><circle cx="1029.3" cy="1329.5" r="5.45" fill="#0084f9" stroke="#0071e0" stroke-width="0.9"/><circle cx="1036.3" cy="1329.5" r="5.45" fill="#0084f9" stroke="#0071e0" stroke-width="0.9"/><circle cx="1059.6" cy="1311.3" r="5.45" fill="#0088fa" stroke="#0074e1" stroke-width="0.9"/><circle cx="1061.2" cy="1320.7" r="5.45" fill="#0084f9" stroke="#0071e0" stroke-width="0.9"/><circle cx="1086.4" cy="1320.7" r="5.45" fill="#0084f9" stroke="#0071e0" stroke-width="0.9"/><circle cx="865" cy="1311.9" r="5.45" fill="#e00086" stroke="#c00078" stroke-width="0.9"/><circle cx="884" cy="1311.9" r="5.45" fill="#9135ba" stroke="#7c2da7" stroke-width="0.9"/><circle cx="903" cy="1311.9" r="5.45" fill="#9b23ad" stroke="#851e9b" stroke-width="0.9"/><circle cx="912" cy="1311.9" r="5.45" fill="#ac16a7" stroke="#931296" stroke-width="0.9"/><circle cx="950" cy="1311.9" r="5.45" fill="#635adb" stroke="#554dc5" stroke-width="0.9"/><circle cx="958" cy="1311.9" r="5.45" fill="#635adb" stroke="#554dc5" stroke-width="0.9"/><circle cx="970" cy="1311.9" r="5.45" fill="#754fd1" stroke="#6443bc" stroke-width="0.9"/><circle cx="997" cy="1311.9" r="5.45" fill="#635adb" stroke="#554dc5" stroke-width="0.9"/><circle cx="1003" cy="1311.9" r="5.45" fill="#635adb" stroke="#554dc5" stroke-width="0.9"/><circle cx="1014" cy="1311.9" r="5.45" fill="#246cea" stroke="#1e5cd2" stroke-width="0.9"/><circle cx="1035" cy="1311.9" r="5.45" fill="#0084f9" stroke="#0071e0" stroke-width="0.9"/><circle cx="862" cy="1320.9" r="5.45" fill="#d5008f" stroke="#b70080" stroke-width="0.9"/><circle cx="880" cy="1320.9" r="5.45" fill="#bb00a0" stroke="#a00090" stroke-width="0.9"/><circle cx="888" cy="1320.9" r="5.45" fill="#9135ba" stroke="#7c2da7" stroke-width="0.9"/><circle cx="900" cy="1320.9" r="5.45" fill="#9135ba" stroke="#7c2da7" stroke-width="0.9"/><circle cx="925" cy="1320.9" r="5.45" fill="#9135ba" stroke="#7c2da7" stroke-width="0.9"/><circle cx="935" cy="1320.9" r="5.45" fill="#754fd1" stroke="#6443bc" stroke-width="0.9"/><circle cx="945" cy="1320.9" r="5.45" fill="#635adb" stroke="#554dc5" stroke-width="0.9"/><circle cx="968" cy="1320.9" r="5.45" fill="#635adb" stroke="#554dc5" stroke-width="0.9"/><circle cx="978" cy="1320.9" r="5.45" fill="#635adb" stroke="#554dc5" stroke-width="0.9"/><circle cx="990" cy="1320.9" r="5.45" fill="#635adb" stroke="#554dc5" stroke-width="0.9"/><circle cx="1002" cy="1320.9" r="5.45" fill="#bb00a0" stroke="#a00090" stroke-width="0.9"/><circle cx="1021" cy="1320.9" r="5.45" fill="#bb00a0" stroke="#a00090" stroke-width="0.9"/><circle cx="1033" cy="1320.9" r="5.45" fill="#007cf5" stroke="#006adc" stroke-width="0.9"/><circle cx="870" cy="1329.9" r="5.45" fill="#9b23ad" stroke="#851e9b" stroke-width="0.9"/><circle cx="877" cy="1329.9" r="5.45" fill="#9b23ad" stroke="#851e9b" stroke-width="0.9"/><circle cx="897" cy="1329.9" r="5.45" fill="#9135ba" stroke="#7c2da7" stroke-width="0.9"/><circle cx="913" cy="1329.9" r="5.45" fill="#8443c6" stroke="#7139b2" stroke-width="0.9"/><circle cx="928" cy="1329.9" r="5.45" fill="#4b63e3" stroke="#4055cc" stroke-width="0.9"/><circle cx="940" cy="1329.9" r="5.45" fill="#0084f9" stroke="#0071e0" stroke-width="0.9"/><circle cx="960" cy="1329.9" r="5.45" fill="#635adb" stroke="#554dc5" stroke-width="0.9"/><circle cx="980" cy="1329.9" r="5.45" fill="#635adb" stroke="#554dc5" stroke-width="0.9"/><circle cx="1000" cy="1329.9" r="5.45" fill="#007cf5" stroke="#006adc" stroke-width="0.9"/><circle cx="1013" cy="1329.9" r="5.45" fill="#007cf5" stroke="#006adc" stroke-width="0.9"/><circle cx="898" cy="1302.9" r="5.45" fill="#9135ba" stroke="#7c2da7" stroke-width="0.9"/><circle cx="915" cy="1302.9" r="5.45" fill="#9135ba" stroke="#7c2da7" stroke-width="0.9"/><circle cx="927" cy="1302.9" r="5.45" fill="#9135ba" stroke="#7c2da7" stroke-width="0.9"/><circle cx="841.7" cy="1416.3" r="5.45" fill="#c90098" stroke="#ac0088" stroke-width="0.9"/><circle cx="855.8" cy="1416.3" r="5.45" fill="#d5008f" stroke="#b70080" stroke-width="0.9"/><circle cx="867.5" cy="1416.3" r="5.45" fill="#c90098" stroke="#ac0088" stroke-width="0.9"/><circle cx="878.5" cy="1416.3" r="5.45" fill="#ac16a7" stroke="#931296" stroke-width="0.9"/><circle cx="886.3" cy="1416.3" r="5.45" fill="#d5008f" stroke="#b70080" stroke-width="0.9"/><circle cx="896.5" cy="1416.3" r="5.45" fill="#bb00a0" stroke="#a00090" stroke-width="0.9"/><circle cx="907.4" cy="1416.3" r="5.45" fill="#d5008f" stroke="#b70080" stroke-width="0.9"/><circle cx="916" cy="1416.3" r="5.45" fill="#c90098" stroke="#ac0088" stroke-width="0.9"/><circle cx="923.8" cy="1416.3" r="5.45" fill="#635adb" stroke="#554dc5" stroke-width="0.9"/><circle cx="931.6" cy="1416.3" r="5.45" fill="#ff0051" stroke="#db0048" stroke-width="0.9"/><circle cx="944.2" cy="1416.3" r="5.45" fill="#0084f9" stroke="#0071e0" stroke-width="0.9"/><circle cx="851.9" cy="1407.3" r="5.45" fill="#c90098" stroke="#ac0088" stroke-width="0.9"/><circle cx="867.5" cy="1407.3" r="5.45" fill="#c90098" stroke="#ac0088" stroke-width="0.9"/><circle cx="876.1" cy="1407.3" r="5.45" fill="#bb00a0" stroke="#a00090" stroke-width="0.9"/><circle cx="886.3" cy="1407.3" r="5.45" fill="#bb00a0" stroke="#a00090" stroke-width="0.9"/><circle cx="898.8" cy="1407.3" r="5.45" fill="#246cea" stroke="#1e5cd2" stroke-width="0.9"/><circle cx="911.3" cy="1407.3" r="5.45" fill="#8443c6" stroke="#7139b2" stroke-width="0.9"/><circle cx="922.3" cy="1407.3" r="5.45" fill="#e00086" stroke="#c00078" stroke-width="0.9"/><circle cx="934" cy="1407.3" r="5.45" fill="#635adb" stroke="#554dc5" stroke-width="0.9"/><circle cx="944.2" cy="1407.3" r="5.45" fill="#754fd1" stroke="#6443bc" stroke-width="0.9"/><circle cx="873" cy="1398.7" r="5.45" fill="#9b23ad" stroke="#851e9b" stroke-width="0.9"/><circle cx="891" cy="1398.7" r="5.45" fill="#0084f9" stroke="#0071e0" stroke-width="0.9"/><circle cx="896.5" cy="1398.7" r="5.45" fill="#c90098" stroke="#ac0088" stroke-width="0.9"/><circle cx="910.5" cy="1398.7" r="5.45" fill="#0086fa" stroke="#0073e1" stroke-width="0.9"/><circle cx="921.5" cy="1398.7" r="5.45" fill="#fe005c" stroke="#da0052" stroke-width="0.9"/><circle cx="933.2" cy="1398.7" r="5.45" fill="#e00086" stroke="#c00078" stroke-width="0.9"/><circle cx="944.2" cy="1398.7" r="5.45" fill="#ff0051" stroke="#db0048" stroke-width="0.9"/><circle cx="912.1" cy="1389.7" r="5.45" fill="#246cea" stroke="#1e5cd2" stroke-width="0.9"/><circle cx="923.8" cy="1389.7" r="5.45" fill="#0075f0" stroke="#0064d8" stroke-width="0.9"/><circle cx="934" cy="1389.7" r="5.45" fill="#e00086" stroke="#c00078" stroke-width="0.9"/><circle cx="867.5" cy="1424.9" r="5.45" fill="#9b23ad" stroke="#851e9b" stroke-width="0.9"/><circle cx="877.7" cy="1424.9" r="5.45" fill="#0084f9" stroke="#0071e0" stroke-width="0.9"/><circle cx="886.3" cy="1424.9" r="5.45" fill="#f20072" stroke="#d00066" stroke-width="0.9"/><circle cx="894.9" cy="1424.9" r="5.45" fill="#ac16a7" stroke="#931296" stroke-width="0.9"/><circle cx="904.3" cy="1424.9" r="5.45" fill="#c90098" stroke="#ac0088" stroke-width="0.9"/><circle cx="922.3" cy="1424.9" r="5.45" fill="#f90067" stroke="#d6005c" stroke-width="0.9"/><circle cx="931.6" cy="1424.9" r="5.45" fill="#754fd1" stroke="#6443bc" stroke-width="0.9"/><circle cx="941.8" cy="1424.9" r="5.45" fill="#9135ba" stroke="#7c2da7" stroke-width="0.9"/><circle cx="896.5" cy="1433.5" r="5.45" fill="#e00086" stroke="#c00078" stroke-width="0.9"/><circle cx="911.3" cy="1433.5" r="5.45" fill="#9b23ad" stroke="#851e9b" stroke-width="0.9"/><circle cx="919.1" cy="1433.5" r="5.45" fill="#9b23ad" stroke="#851e9b" stroke-width="0.9"/><circle cx="933.2" cy="1433.5" r="5.45" fill="#c90098" stroke="#ac0088" stroke-width="0.9"/><circle cx="942.6" cy="1433.5" r="5.45" fill="#9b23ad" stroke="#851e9b" stroke-width="0.9"/><circle cx="924.6" cy="1442.1" r="5.45" fill="#fe005c" stroke="#da0052" stroke-width="0.9"/><circle cx="933.2" cy="1442.1" r="5.45" fill="#fe005c" stroke="#da0052" stroke-width="0.9"/><circle cx="963.6" cy="1398.7" r="5.45" fill="#d5008f" stroke="#b70080" stroke-width="0.9"/><circle cx="955" cy="1407.3" r="5.45" fill="#0084f9" stroke="#0071e0" stroke-width="0.9"/><circle cx="966" cy="1407.3" r="5.45" fill="#0084f9" stroke="#0071e0" stroke-width="0.9"/><circle cx="971.4" cy="1407.3" r="5.45" fill="#9135ba" stroke="#7c2da7" stroke-width="0.9"/><circle cx="980.8" cy="1407.3" r="5.45" fill="#0079f3" stroke="#0068da" stroke-width="0.9"/><circle cx="994.9" cy="1407.3" r="5.45" fill="#e00086" stroke="#c00078" stroke-width="0.9"/><circle cx="1011.3" cy="1416.3" r="5.45" fill="#ff0051" stroke="#db0048" stroke-width="0.9"/><circle cx="955" cy="1416.3" r="5.45" fill="#ff0051" stroke="#db0048" stroke-width="0.9"/><circle cx="969.9" cy="1416.3" r="5.45" fill="#bb00a0" stroke="#a00090" stroke-width="0.9"/><circle cx="975.3" cy="1416.3" r="5.45" fill="#0084f9" stroke="#0071e0" stroke-width="0.9"/><circle cx="978.5" cy="1416.3" r="5.45" fill="#ff0051" stroke="#db0048" stroke-width="0.9"/><circle cx="985.5" cy="1416.3" r="5.45" fill="#635adb" stroke="#554dc5" stroke-width="0.9"/><circle cx="994.1" cy="1416.3" r="5.45" fill="#ff0051" stroke="#db0048" stroke-width="0.9"/><circle cx="1007.4" cy="1416.3" r="5.45" fill="#007ff7" stroke="#006dde" stroke-width="0.9"/><circle cx="1035.6" cy="1416.3" r="5.45" fill="#ff0051" stroke="#db0048" stroke-width="0.9"/><circle cx="952.7" cy="1424.9" r="5.45" fill="#0084f9" stroke="#0071e0" stroke-width="0.9"/><circle cx="964.4" cy="1424.9" r="5.45" fill="#c90098" stroke="#ac0088" stroke-width="0.9"/><circle cx="916" cy="1389.7" r="5.45" fill="#4b63e3" stroke="#4055cc" stroke-width="0.9"/><circle cx="928" cy="1389.7" r="5.45" fill="#246cea" stroke="#1e5cd2" stroke-width="0.9"/><circle cx="905" cy="1398.7" r="5.45" fill="#007cf5" stroke="#006adc" stroke-width="0.9"/><circle cx="915" cy="1398.7" r="5.45" fill="#bb00a0" stroke="#a00090" stroke-width="0.9"/><circle cx="927" cy="1398.7" r="5.45" fill="#e9007c" stroke="#c8006f" stroke-width="0.9"/><circle cx="940" cy="1398.7" r="5.45" fill="#fe005c" stroke="#da0052" stroke-width="0.9"/><circle cx="862" cy="1407.3" r="5.45" fill="#d5008f" stroke="#b70080" stroke-width="0.9"/><circle cx="873" cy="1407.3" r="5.45" fill="#c90098" stroke="#ac0088" stroke-width="0.9"/><circle cx="880" cy="1407.3" r="5.45" fill="#bb00a0" stroke="#a00090" stroke-width="0.9"/><circle cx="893" cy="1407.3" r="5.45" fill="#8443c6" stroke="#7139b2" stroke-width="0.9"/><circle cx="905" cy="1407.3" r="5.45" fill="#ac16a7" stroke="#931296" stroke-width="0.9"/><circle cx="915" cy="1407.3" r="5.45" fill="#d5008f" stroke="#b70080" stroke-width="0.9"/><circle cx="928" cy="1407.3" r="5.45" fill="#bb00a0" stroke="#a00090" stroke-width="0.9"/><circle cx="950" cy="1407.3" r="5.45" fill="#007cf5" stroke="#006adc" stroke-width="0.9"/><circle cx="958" cy="1407.3" r="5.45" fill="#0084f9" stroke="#0071e0" stroke-width="0.9"/><circle cx="848" cy="1416.3" r="5.45" fill="#d5008f" stroke="#b70080" stroke-width="0.9"/><circle cx="862" cy="1416.3" r="5.45" fill="#c90098" stroke="#ac0088" stroke-width="0.9"/><circle cx="872" cy="1416.3" r="5.45" fill="#c90098" stroke="#ac0088" stroke-width="0.9"/><circle cx="883" cy="1416.3" r="5.45" fill="#bb00a0" stroke="#a00090" stroke-width="0.9"/><circle cx="891" cy="1416.3" r="5.45" fill="#c90098" stroke="#ac0088" stroke-width="0.9"/><circle cx="902" cy="1416.3" r="5.45" fill="#c90098" stroke="#ac0088" stroke-width="0.9"/><circle cx="912" cy="1416.3" r="5.45" fill="#bb00a0" stroke="#a00090" stroke-width="0.9"/><circle cx="935" cy="1416.3" r="5.45" fill="#007cf5" stroke="#006adc" stroke-width="0.9"/><circle cx="948" cy="1416.3" r="5.45" fill="#0084f9" stroke="#0071e0" stroke-width="0.9"/><circle cx="960" cy="1416.3" r="5.45" fill="#635adb" stroke="#554dc5" stroke-width="0.9"/><circle cx="990" cy="1416.3" r="5.45" fill="#9b23ad" stroke="#851e9b" stroke-width="0.9"/><circle cx="862" cy="1424.9" r="5.45" fill="#ac16a7" stroke="#931296" stroke-width="0.9"/><circle cx="872" cy="1424.9" r="5.45" fill="#bb00a0" stroke="#a00090" stroke-width="0.9"/><circle cx="882" cy="1424.9" r="5.45" fill="#bb00a0" stroke="#a00090" stroke-width="0.9"/><circle cx="892" cy="1424.9" r="5.45" fill="#c90098" stroke="#ac0088" stroke-width="0.9"/><circle cx="900" cy="1424.9" r="5.45" fill="#007cf5" stroke="#006adc" stroke-width="0.9"/><circle cx="912" cy="1424.9" r="5.45" fill="#9135ba" stroke="#7c2da7" stroke-width="0.9"/><circle cx="928" cy="1424.9" r="5.45" fill="#8443c6" stroke="#7139b2" stroke-width="0.9"/><circle cx="937" cy="1424.9" r="5.45" fill="#007cf5" stroke="#006adc" stroke-width="0.9"/><circle cx="948" cy="1424.9" r="5.45" fill="#0084f9" stroke="#0071e0" stroke-width="0.9"/><circle cx="905" cy="1433.5" r="5.45" fill="#9b23ad" stroke="#851e9b" stroke-width="0.9"/><circle cx="925" cy="1433.5" r="5.45" fill="#ac16a7" stroke="#931296" stroke-width="0.9"/><circle cx="935" cy="1433.5" r="5.45" fill="#9135ba" stroke="#7c2da7" stroke-width="0.9"/><circle cx="916" cy="1433.5" r="5.45" fill="#0084f9" stroke="#0071e0" stroke-width="0.9"/><circle cx="1091.1" cy="1416.1" r="5.45" fill="#ff0051" stroke="#db0048" stroke-width="0.9"/><circle cx="1082.1" cy="1416.1" r="5.45" fill="#8443c6" stroke="#7139b2" stroke-width="0.9"/><line x1="401.0" y1="1511.7" x2="1347.4" y2="1511.7" stroke="#000" stroke-width="2.5"/><line x1="444.4" y1="1511.7" x2="444.4" y2="1521.7" stroke="#000" stroke-width="2.3"/><text x="444.4" y="1555.1" font-size="31.6" text-anchor="middle" fill="#000">−3</text><line x1="603.8" y1="1511.7" x2="603.8" y2="1521.7" stroke="#000" stroke-width="2.3"/><text x="603.8" y="1555.1" font-size="31.6" text-anchor="middle" fill="#000">−2</text><line x1="763.2" y1="1511.7" x2="763.2" y2="1521.7" stroke="#000" stroke-width="2.3"/><text x="763.2" y="1555.1" font-size="31.6" text-anchor="middle" fill="#000">−1</text><line x1="922.6" y1="1511.7" x2="922.6" y2="1521.7" stroke="#000" stroke-width="2.3"/><text x="922.6" y="1555.1" font-size="31.6" text-anchor="middle" fill="#000">0</text><line x1="1082" y1="1511.7" x2="1082" y2="1521.7" stroke="#000" stroke-width="2.3"/><text x="1082" y="1555.1" font-size="31.6" text-anchor="middle" fill="#000">1</text><line x1="1241.4" y1="1511.7" x2="1241.4" y2="1521.7" stroke="#000" stroke-width="2.3"/><text x="1241.4" y="1555.1" font-size="31.6" text-anchor="middle" fill="#000">2</text><text x="335" y="1239" font-size="37" text-anchor="end" fill="#111">CBMM</text><text x="335" y="1334.4" font-size="37" text-anchor="end" fill="#111">Sarcopenia Index</text><text x="335" y="1429.7" font-size="37" text-anchor="end" fill="#111">eGFR Ratio</text><text x="874.2" y="1600.9" font-size="37" text-anchor="middle" fill="#000">SHAP value (impact on model output)</text><rect x="1404.7" y="1130" width="5.2" height="381.6" fill="url(#cb)"/><text x="1419.5" y="1142.4" font-size="31.2" fill="#000">High</text><text x="1419.5" y="1523.4" font-size="31.2" fill="#000">Low</text><text transform="translate(1525.2 1320.7) rotate(-90)" font-size="34.5" text-anchor="middle" fill="#000">Feature value</text><text x="29.5" y="1151.3" font-size="54.5" font-weight="bold" font-family="Liberation Serif, serif" fill="#000">(C)</text></g>
</svg></body></html>
